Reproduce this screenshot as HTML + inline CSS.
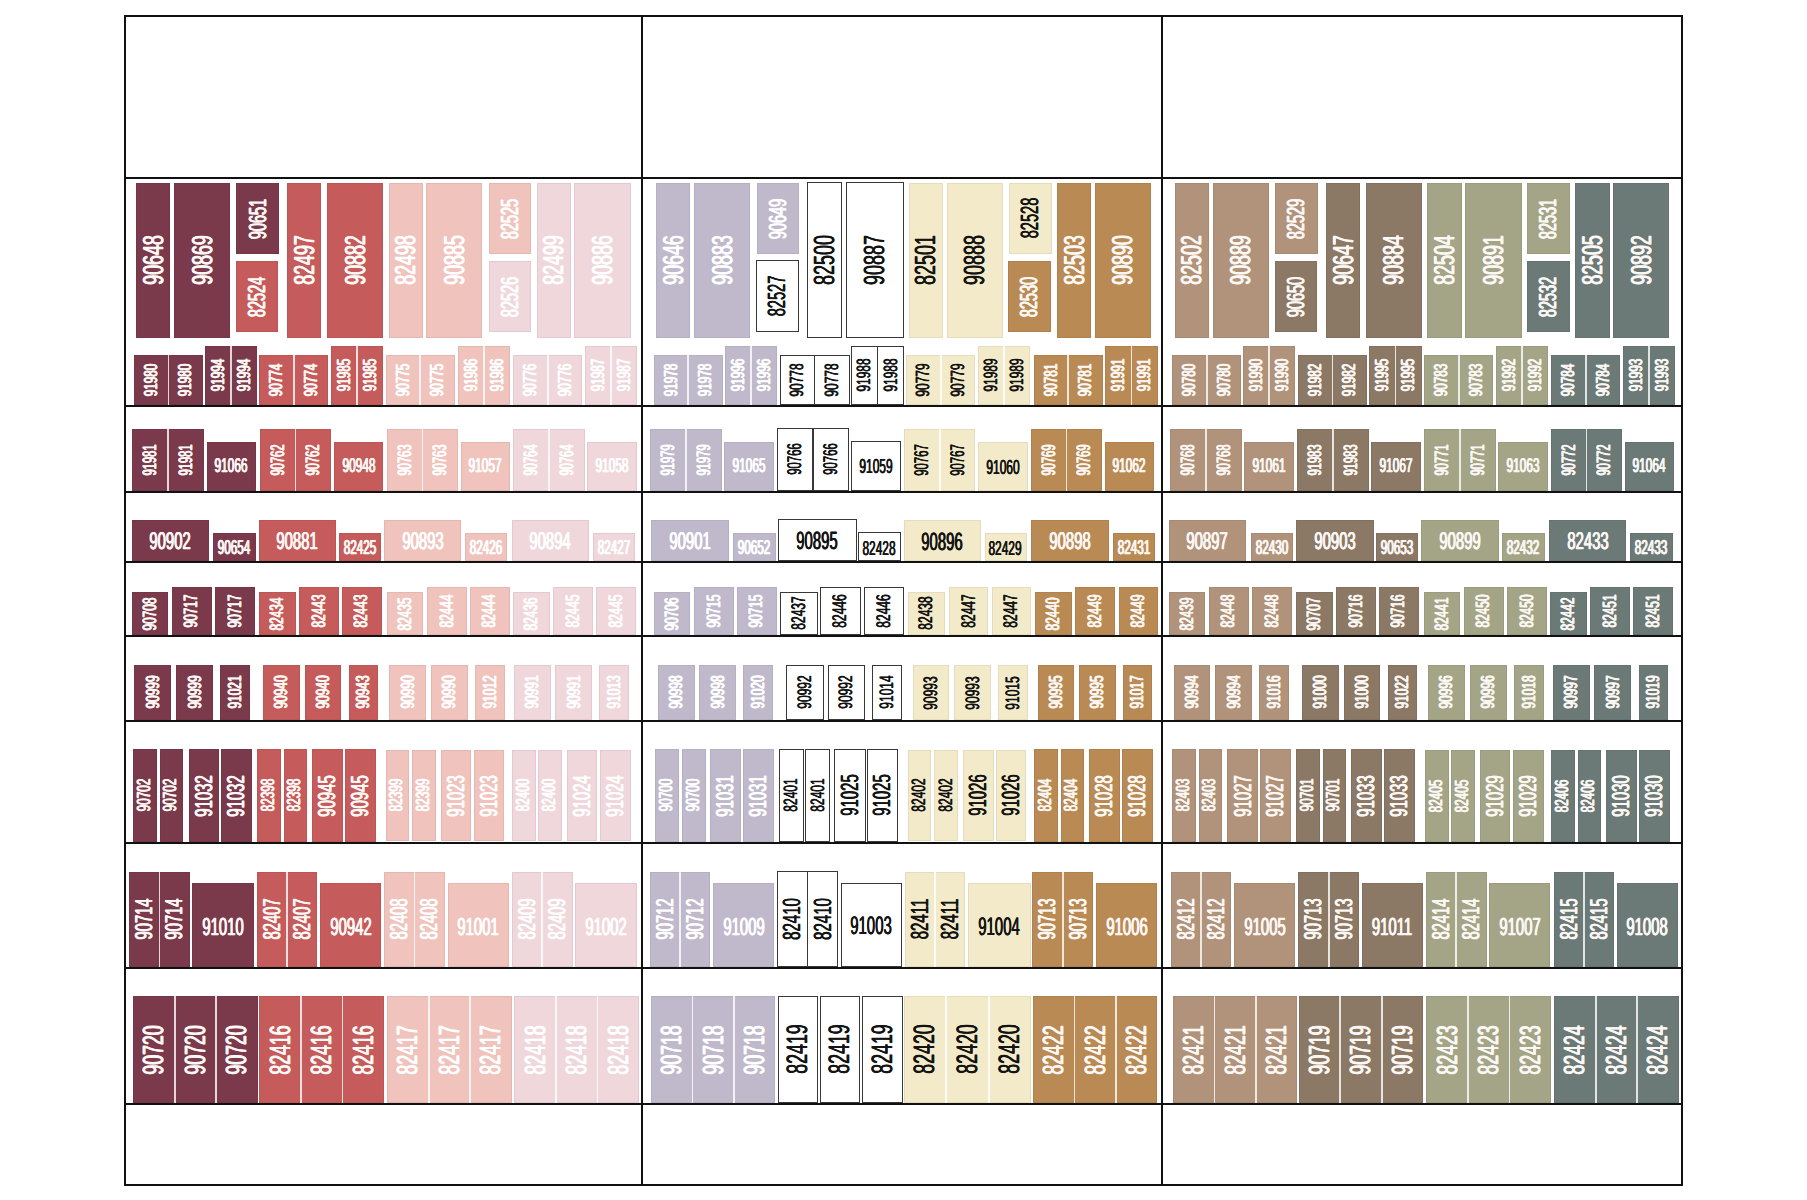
<!DOCTYPE html>
<html><head><meta charset="utf-8"><style>
html,body{margin:0;padding:0;background:#fff;}
body{width:1807px;height:1200px;position:relative;overflow:hidden;font-family:"Liberation Sans",sans-serif;}
.b{position:absolute;box-sizing:border-box;box-shadow:inset 0 0 0 1px rgba(40,0,20,0.06);}
.w{background:#fff;border:1.25px solid #383838;box-shadow:none;}
.dv{position:absolute;width:1.8px;background:rgba(255,255,255,0.8);}
.t{position:absolute;white-space:nowrap;line-height:1;display:block;text-rendering:geometricPrecision;font-weight:normal;-webkit-text-stroke:0.3px currentColor;text-shadow:0.7px 0 0 currentColor,-0.7px 0 0 currentColor;}
.d{-webkit-text-stroke:0;text-shadow:0.45px 0 0 currentColor,-0.45px 0 0 currentColor;}
.ln{position:absolute;background:#111;}
</style></head><body>
<div class="b" style="left:136px;top:182.7px;width:34.00px;height:155.30px;background:#7b3a4c;"></div>
<span class="t" style="left:153.50px;top:260.39px;font-size:28.73px;color:#fbf7f4;transform:translate(-50%,-50%) rotate(-90deg) scaleX(0.620)">90648</span>
<div class="b" style="left:174px;top:182.7px;width:56.00px;height:155.30px;background:#7b3a4c;"></div>
<span class="t" style="left:202.50px;top:260.39px;font-size:28.73px;color:#fbf7f4;transform:translate(-50%,-50%) rotate(-90deg) scaleX(0.620)">90869</span>
<div class="b" style="left:236px;top:182.7px;width:43.00px;height:71.30px;background:#7b3a4c;"></div>
<span class="t" style="left:258.51px;top:218.66px;font-size:24.56px;color:#fbf7f4;transform:translate(-50%,-50%) rotate(-90deg) scaleX(0.592)">90651</span>
<div class="b" style="left:236px;top:260.7px;width:42.00px;height:71.30px;background:#c55b5b;"></div>
<span class="t" style="left:258.01px;top:296.66px;font-size:24.56px;color:#fbf7f4;transform:translate(-50%,-50%) rotate(-90deg) scaleX(0.592)">82524</span>
<div class="b" style="left:287px;top:182.7px;width:34.00px;height:155.30px;background:#c55b5b;"></div>
<span class="t" style="left:304.50px;top:260.39px;font-size:28.73px;color:#fbf7f4;transform:translate(-50%,-50%) rotate(-90deg) scaleX(0.620)">82497</span>
<div class="b" style="left:327px;top:182.7px;width:56.00px;height:155.30px;background:#c55b5b;"></div>
<span class="t" style="left:355.50px;top:260.39px;font-size:28.73px;color:#fbf7f4;transform:translate(-50%,-50%) rotate(-90deg) scaleX(0.620)">90882</span>
<div class="b" style="left:389px;top:182.7px;width:33.50px;height:155.30px;background:#f0c3bd;"></div>
<span class="t" style="left:406.25px;top:260.39px;font-size:28.73px;color:#ffffff;transform:translate(-50%,-50%) rotate(-90deg) scaleX(0.620)">82498</span>
<div class="b" style="left:426px;top:182.7px;width:56.00px;height:155.30px;background:#f0c3bd;"></div>
<span class="t" style="left:454.50px;top:260.39px;font-size:28.73px;color:#ffffff;transform:translate(-50%,-50%) rotate(-90deg) scaleX(0.620)">90885</span>
<div class="b" style="left:488.5px;top:182.7px;width:42.50px;height:71.30px;background:#f0c3bd;"></div>
<span class="t" style="left:510.76px;top:218.66px;font-size:24.56px;color:#ffffff;transform:translate(-50%,-50%) rotate(-90deg) scaleX(0.592)">82525</span>
<div class="b" style="left:488.5px;top:260.7px;width:42.50px;height:71.30px;background:#efd7dc;"></div>
<span class="t" style="left:510.76px;top:296.66px;font-size:24.56px;color:#ffffff;transform:translate(-50%,-50%) rotate(-90deg) scaleX(0.592)">82526</span>
<div class="b" style="left:537px;top:182.7px;width:33.50px;height:155.30px;background:#efd7dc;"></div>
<span class="t" style="left:554.25px;top:260.39px;font-size:28.73px;color:#ffffff;transform:translate(-50%,-50%) rotate(-90deg) scaleX(0.620)">82499</span>
<div class="b" style="left:574px;top:182.7px;width:57.00px;height:155.30px;background:#efd7dc;"></div>
<span class="t" style="left:603.00px;top:260.39px;font-size:28.73px;color:#ffffff;transform:translate(-50%,-50%) rotate(-90deg) scaleX(0.620)">90886</span>
<div class="b" style="left:656px;top:182.7px;width:34.00px;height:155.30px;background:#c0b9cc;"></div>
<span class="t" style="left:673.50px;top:260.39px;font-size:28.73px;color:#ffffff;transform:translate(-50%,-50%) rotate(-90deg) scaleX(0.620)">90646</span>
<div class="b" style="left:694px;top:182.7px;width:56.00px;height:155.30px;background:#c0b9cc;"></div>
<span class="t" style="left:722.50px;top:260.39px;font-size:28.73px;color:#ffffff;transform:translate(-50%,-50%) rotate(-90deg) scaleX(0.620)">90883</span>
<div class="b" style="left:756.5px;top:182.7px;width:42.50px;height:71.30px;background:#c0b9cc;"></div>
<span class="t" style="left:778.76px;top:218.66px;font-size:24.56px;color:#ffffff;transform:translate(-50%,-50%) rotate(-90deg) scaleX(0.592)">90649</span>
<div class="b w" style="left:755.5px;top:259.7px;width:43.00px;height:72.80px;"></div>
<span class="t d" style="left:777.41px;top:296.18px;font-size:24.91px;color:#141414;transform:translate(-50%,-50%) rotate(-90deg) scaleX(0.587)">82527</span>
<div class="b w" style="left:806.5px;top:181.7px;width:35.00px;height:156.80px;"></div>
<span class="t d" style="left:825.53px;top:260.10px;font-size:29.10px;color:#141414;transform:translate(-50%,-50%) rotate(-90deg) scaleX(0.616)">82500</span>
<div class="b w" style="left:846px;top:181.7px;width:57.50px;height:156.80px;"></div>
<span class="t d" style="left:876.28px;top:260.10px;font-size:29.10px;color:#141414;transform:translate(-50%,-50%) rotate(-90deg) scaleX(0.616)">90887</span>
<div class="b" style="left:908.5px;top:182.7px;width:34.00px;height:155.30px;background:#f2eac8;"></div>
<span class="t d" style="left:927.03px;top:260.35px;font-size:29.10px;color:#141414;transform:translate(-50%,-50%) rotate(-90deg) scaleX(0.616)">82501</span>
<div class="b" style="left:946.5px;top:182.7px;width:56.00px;height:155.30px;background:#f2eac8;"></div>
<span class="t d" style="left:976.03px;top:260.35px;font-size:29.10px;color:#141414;transform:translate(-50%,-50%) rotate(-90deg) scaleX(0.616)">90888</span>
<div class="b" style="left:1008.5px;top:182.7px;width:43.00px;height:71.30px;background:#f2eac8;"></div>
<span class="t d" style="left:1030.41px;top:218.43px;font-size:24.91px;color:#141414;transform:translate(-50%,-50%) rotate(-90deg) scaleX(0.587)">82528</span>
<div class="b" style="left:1008px;top:260.7px;width:42.50px;height:71.30px;background:#b98a53;"></div>
<span class="t" style="left:1030.26px;top:296.66px;font-size:24.56px;color:#fbf7f4;transform:translate(-50%,-50%) rotate(-90deg) scaleX(0.592)">82530</span>
<div class="b" style="left:1057px;top:182.7px;width:34.00px;height:155.30px;background:#b98a53;"></div>
<span class="t" style="left:1074.50px;top:260.39px;font-size:28.73px;color:#fbf7f4;transform:translate(-50%,-50%) rotate(-90deg) scaleX(0.620)">82503</span>
<div class="b" style="left:1094.5px;top:182.7px;width:56.00px;height:155.30px;background:#b98a53;"></div>
<span class="t" style="left:1123.00px;top:260.39px;font-size:28.73px;color:#fbf7f4;transform:translate(-50%,-50%) rotate(-90deg) scaleX(0.620)">90890</span>
<div class="b" style="left:1175px;top:182.7px;width:33.50px;height:155.30px;background:#b0937a;"></div>
<span class="t" style="left:1192.25px;top:260.39px;font-size:28.73px;color:#fbf7f4;transform:translate(-50%,-50%) rotate(-90deg) scaleX(0.620)">82502</span>
<div class="b" style="left:1213px;top:182.7px;width:55.50px;height:155.30px;background:#b0937a;"></div>
<span class="t" style="left:1241.25px;top:260.39px;font-size:28.73px;color:#fbf7f4;transform:translate(-50%,-50%) rotate(-90deg) scaleX(0.620)">90889</span>
<div class="b" style="left:1275px;top:182.7px;width:42.50px;height:71.30px;background:#b0937a;"></div>
<span class="t" style="left:1297.26px;top:218.66px;font-size:24.56px;color:#fbf7f4;transform:translate(-50%,-50%) rotate(-90deg) scaleX(0.592)">82529</span>
<div class="b" style="left:1275px;top:260.7px;width:42.00px;height:71.30px;background:#8b7865;"></div>
<span class="t" style="left:1297.01px;top:296.66px;font-size:24.56px;color:#fbf7f4;transform:translate(-50%,-50%) rotate(-90deg) scaleX(0.592)">90650</span>
<div class="b" style="left:1326px;top:182.7px;width:34.00px;height:155.30px;background:#8b7865;"></div>
<span class="t" style="left:1343.50px;top:260.39px;font-size:28.73px;color:#fbf7f4;transform:translate(-50%,-50%) rotate(-90deg) scaleX(0.620)">90647</span>
<div class="b" style="left:1365.5px;top:182.7px;width:56.00px;height:155.30px;background:#8b7865;"></div>
<span class="t" style="left:1394.00px;top:260.39px;font-size:28.73px;color:#fbf7f4;transform:translate(-50%,-50%) rotate(-90deg) scaleX(0.620)">90884</span>
<div class="b" style="left:1427px;top:182.7px;width:34.50px;height:155.30px;background:#a3a586;"></div>
<span class="t" style="left:1444.75px;top:260.39px;font-size:28.73px;color:#fbf7f4;transform:translate(-50%,-50%) rotate(-90deg) scaleX(0.620)">82504</span>
<div class="b" style="left:1465px;top:182.7px;width:56.50px;height:155.30px;background:#a3a586;"></div>
<span class="t" style="left:1493.75px;top:260.39px;font-size:28.73px;color:#fbf7f4;transform:translate(-50%,-50%) rotate(-90deg) scaleX(0.620)">90891</span>
<div class="b" style="left:1527px;top:182.7px;width:42.50px;height:71.30px;background:#a3a586;"></div>
<span class="t" style="left:1549.26px;top:218.66px;font-size:24.56px;color:#fbf7f4;transform:translate(-50%,-50%) rotate(-90deg) scaleX(0.592)">82531</span>
<div class="b" style="left:1526.5px;top:260.7px;width:43.00px;height:71.30px;background:#6b7a77;"></div>
<span class="t" style="left:1549.01px;top:296.66px;font-size:24.56px;color:#fbf7f4;transform:translate(-50%,-50%) rotate(-90deg) scaleX(0.592)">82532</span>
<div class="b" style="left:1575px;top:182.7px;width:34.50px;height:155.30px;background:#6b7a77;"></div>
<span class="t" style="left:1592.75px;top:260.39px;font-size:28.73px;color:#fbf7f4;transform:translate(-50%,-50%) rotate(-90deg) scaleX(0.620)">82505</span>
<div class="b" style="left:1613px;top:182.7px;width:56.00px;height:155.30px;background:#6b7a77;"></div>
<span class="t" style="left:1641.50px;top:260.39px;font-size:28.73px;color:#fbf7f4;transform:translate(-50%,-50%) rotate(-90deg) scaleX(0.620)">90892</span>
<div class="b" style="left:134px;top:354.7px;width:68.50px;height:50.30px;background:#7b3a4c;"></div>
<span class="t" style="left:151.22px;top:379.65px;font-size:18.81px;color:#fbf7f4;transform:translate(-50%,-50%) rotate(-90deg) scaleX(0.622)">91980</span>
<div class="dv" style="left:167.50px;top:354.7px;height:50.30px"></div>
<span class="t" style="left:185.47px;top:379.65px;font-size:18.81px;color:#fbf7f4;transform:translate(-50%,-50%) rotate(-90deg) scaleX(0.622)">91980</span>
<div class="b" style="left:205px;top:345.7px;width:52.00px;height:59.30px;background:#7b3a4c;"></div>
<span class="t" style="left:218.09px;top:375.15px;font-size:18.81px;color:#fbf7f4;transform:translate(-50%,-50%) rotate(-90deg) scaleX(0.622)">91994</span>
<div class="dv" style="left:230.25px;top:345.7px;height:59.30px"></div>
<span class="t" style="left:244.09px;top:375.15px;font-size:18.81px;color:#fbf7f4;transform:translate(-50%,-50%) rotate(-90deg) scaleX(0.622)">91994</span>
<div class="b" style="left:259px;top:354.7px;width:69.00px;height:50.30px;background:#c55b5b;"></div>
<span class="t" style="left:276.34px;top:379.65px;font-size:18.81px;color:#fbf7f4;transform:translate(-50%,-50%) rotate(-90deg) scaleX(0.622)">90774</span>
<div class="dv" style="left:292.75px;top:354.7px;height:50.30px"></div>
<span class="t" style="left:310.84px;top:379.65px;font-size:18.81px;color:#fbf7f4;transform:translate(-50%,-50%) rotate(-90deg) scaleX(0.622)">90774</span>
<div class="b" style="left:331px;top:345.7px;width:52.00px;height:59.30px;background:#c55b5b;"></div>
<span class="t" style="left:344.09px;top:375.15px;font-size:18.81px;color:#fbf7f4;transform:translate(-50%,-50%) rotate(-90deg) scaleX(0.622)">91985</span>
<div class="dv" style="left:356.25px;top:345.7px;height:59.30px"></div>
<span class="t" style="left:370.09px;top:375.15px;font-size:18.81px;color:#fbf7f4;transform:translate(-50%,-50%) rotate(-90deg) scaleX(0.622)">91985</span>
<div class="b" style="left:385.5px;top:354.7px;width:69.00px;height:50.30px;background:#f0c3bd;"></div>
<span class="t" style="left:402.84px;top:379.65px;font-size:18.81px;color:#ffffff;transform:translate(-50%,-50%) rotate(-90deg) scaleX(0.622)">90775</span>
<div class="dv" style="left:419.25px;top:354.7px;height:50.30px"></div>
<span class="t" style="left:437.34px;top:379.65px;font-size:18.81px;color:#ffffff;transform:translate(-50%,-50%) rotate(-90deg) scaleX(0.622)">90775</span>
<div class="b" style="left:457.5px;top:345.7px;width:52.00px;height:59.30px;background:#f0c3bd;"></div>
<span class="t" style="left:470.59px;top:375.15px;font-size:18.81px;color:#ffffff;transform:translate(-50%,-50%) rotate(-90deg) scaleX(0.622)">91986</span>
<div class="dv" style="left:482.75px;top:345.7px;height:59.30px"></div>
<span class="t" style="left:496.59px;top:375.15px;font-size:18.81px;color:#ffffff;transform:translate(-50%,-50%) rotate(-90deg) scaleX(0.622)">91986</span>
<div class="b" style="left:513px;top:354.7px;width:69.00px;height:50.30px;background:#efd7dc;"></div>
<span class="t" style="left:530.34px;top:379.65px;font-size:18.81px;color:#ffffff;transform:translate(-50%,-50%) rotate(-90deg) scaleX(0.622)">90776</span>
<div class="dv" style="left:546.75px;top:354.7px;height:50.30px"></div>
<span class="t" style="left:564.84px;top:379.65px;font-size:18.81px;color:#ffffff;transform:translate(-50%,-50%) rotate(-90deg) scaleX(0.622)">90776</span>
<div class="b" style="left:585px;top:345.7px;width:52.00px;height:59.30px;background:#efd7dc;"></div>
<span class="t" style="left:598.09px;top:375.15px;font-size:18.81px;color:#ffffff;transform:translate(-50%,-50%) rotate(-90deg) scaleX(0.622)">91987</span>
<div class="dv" style="left:610.25px;top:345.7px;height:59.30px"></div>
<span class="t" style="left:624.09px;top:375.15px;font-size:18.81px;color:#ffffff;transform:translate(-50%,-50%) rotate(-90deg) scaleX(0.622)">91987</span>
<div class="b" style="left:653.5px;top:354.7px;width:69.00px;height:50.30px;background:#c0b9cc;"></div>
<span class="t" style="left:670.84px;top:379.65px;font-size:18.81px;color:#ffffff;transform:translate(-50%,-50%) rotate(-90deg) scaleX(0.622)">91978</span>
<div class="dv" style="left:687.25px;top:354.7px;height:50.30px"></div>
<span class="t" style="left:705.34px;top:379.65px;font-size:18.81px;color:#ffffff;transform:translate(-50%,-50%) rotate(-90deg) scaleX(0.622)">91978</span>
<div class="b" style="left:725px;top:345.7px;width:52.00px;height:59.30px;background:#c0b9cc;"></div>
<span class="t" style="left:738.09px;top:375.15px;font-size:18.81px;color:#ffffff;transform:translate(-50%,-50%) rotate(-90deg) scaleX(0.622)">91996</span>
<div class="dv" style="left:750.25px;top:345.7px;height:59.30px"></div>
<span class="t" style="left:764.09px;top:375.15px;font-size:18.81px;color:#ffffff;transform:translate(-50%,-50%) rotate(-90deg) scaleX(0.622)">91996</span>
<div class="b w" style="left:779.5px;top:354.7px;width:35.00px;height:50.30px;"></div>
<span class="t d" style="left:798.08px;top:379.66px;font-size:19.23px;color:#141414;transform:translate(-50%,-50%) rotate(-90deg) scaleX(0.621)">90778</span>
<div class="b w" style="left:814px;top:354.7px;width:35.50px;height:50.30px;"></div>
<span class="t d" style="left:832.83px;top:379.66px;font-size:19.23px;color:#141414;transform:translate(-50%,-50%) rotate(-90deg) scaleX(0.621)">90778</span>
<div class="b w" style="left:850.5px;top:345.7px;width:27.00px;height:59.30px;"></div>
<span class="t d" style="left:865.08px;top:375.16px;font-size:19.23px;color:#141414;transform:translate(-50%,-50%) rotate(-90deg) scaleX(0.621)">91988</span>
<div class="b w" style="left:877px;top:345.7px;width:27.00px;height:59.30px;"></div>
<span class="t d" style="left:891.58px;top:375.16px;font-size:19.23px;color:#141414;transform:translate(-50%,-50%) rotate(-90deg) scaleX(0.621)">91988</span>
<div class="b" style="left:906px;top:354.7px;width:69.00px;height:50.30px;background:#f2eac8;"></div>
<span class="t d" style="left:924.33px;top:379.66px;font-size:19.23px;color:#141414;transform:translate(-50%,-50%) rotate(-90deg) scaleX(0.621)">90779</span>
<div class="dv" style="left:939.75px;top:354.7px;height:50.30px"></div>
<span class="t d" style="left:958.83px;top:379.66px;font-size:19.23px;color:#141414;transform:translate(-50%,-50%) rotate(-90deg) scaleX(0.621)">90779</span>
<div class="b" style="left:977.5px;top:345.7px;width:52.00px;height:59.30px;background:#f2eac8;"></div>
<span class="t d" style="left:991.58px;top:375.16px;font-size:19.23px;color:#141414;transform:translate(-50%,-50%) rotate(-90deg) scaleX(0.621)">91989</span>
<div class="dv" style="left:1002.75px;top:345.7px;height:59.30px"></div>
<span class="t d" style="left:1017.58px;top:375.16px;font-size:19.23px;color:#141414;transform:translate(-50%,-50%) rotate(-90deg) scaleX(0.621)">91989</span>
<div class="b" style="left:1033.5px;top:354.7px;width:69.00px;height:50.30px;background:#b98a53;"></div>
<span class="t" style="left:1050.84px;top:379.65px;font-size:18.81px;color:#fbf7f4;transform:translate(-50%,-50%) rotate(-90deg) scaleX(0.622)">90781</span>
<div class="dv" style="left:1067.25px;top:354.7px;height:50.30px"></div>
<span class="t" style="left:1085.34px;top:379.65px;font-size:18.81px;color:#fbf7f4;transform:translate(-50%,-50%) rotate(-90deg) scaleX(0.622)">90781</span>
<div class="b" style="left:1105px;top:345.7px;width:52.50px;height:59.30px;background:#b98a53;"></div>
<span class="t" style="left:1118.22px;top:375.15px;font-size:18.81px;color:#fbf7f4;transform:translate(-50%,-50%) rotate(-90deg) scaleX(0.622)">91991</span>
<div class="dv" style="left:1130.50px;top:345.7px;height:59.30px"></div>
<span class="t" style="left:1144.47px;top:375.15px;font-size:18.81px;color:#fbf7f4;transform:translate(-50%,-50%) rotate(-90deg) scaleX(0.622)">91991</span>
<div class="b" style="left:1172px;top:354.7px;width:69.00px;height:50.30px;background:#b0937a;"></div>
<span class="t" style="left:1189.34px;top:379.65px;font-size:18.81px;color:#fbf7f4;transform:translate(-50%,-50%) rotate(-90deg) scaleX(0.622)">90780</span>
<div class="dv" style="left:1205.75px;top:354.7px;height:50.30px"></div>
<span class="t" style="left:1223.84px;top:379.65px;font-size:18.81px;color:#fbf7f4;transform:translate(-50%,-50%) rotate(-90deg) scaleX(0.622)">90780</span>
<div class="b" style="left:1243px;top:345.7px;width:52.00px;height:59.30px;background:#b0937a;"></div>
<span class="t" style="left:1256.09px;top:375.15px;font-size:18.81px;color:#fbf7f4;transform:translate(-50%,-50%) rotate(-90deg) scaleX(0.622)">91990</span>
<div class="dv" style="left:1268.25px;top:345.7px;height:59.30px"></div>
<span class="t" style="left:1282.09px;top:375.15px;font-size:18.81px;color:#fbf7f4;transform:translate(-50%,-50%) rotate(-90deg) scaleX(0.622)">91990</span>
<div class="b" style="left:1298px;top:354.7px;width:68.50px;height:50.30px;background:#8b7865;"></div>
<span class="t" style="left:1315.22px;top:379.65px;font-size:18.81px;color:#fbf7f4;transform:translate(-50%,-50%) rotate(-90deg) scaleX(0.622)">91982</span>
<div class="dv" style="left:1331.50px;top:354.7px;height:50.30px"></div>
<span class="t" style="left:1349.47px;top:379.65px;font-size:18.81px;color:#fbf7f4;transform:translate(-50%,-50%) rotate(-90deg) scaleX(0.622)">91982</span>
<div class="b" style="left:1369px;top:345.7px;width:52.50px;height:59.30px;background:#8b7865;"></div>
<span class="t" style="left:1382.22px;top:375.15px;font-size:18.81px;color:#fbf7f4;transform:translate(-50%,-50%) rotate(-90deg) scaleX(0.622)">91995</span>
<div class="dv" style="left:1394.50px;top:345.7px;height:59.30px"></div>
<span class="t" style="left:1408.47px;top:375.15px;font-size:18.81px;color:#fbf7f4;transform:translate(-50%,-50%) rotate(-90deg) scaleX(0.622)">91995</span>
<div class="b" style="left:1424px;top:354.7px;width:69.00px;height:50.30px;background:#a3a586;"></div>
<span class="t" style="left:1441.34px;top:379.65px;font-size:18.81px;color:#fbf7f4;transform:translate(-50%,-50%) rotate(-90deg) scaleX(0.622)">90783</span>
<div class="dv" style="left:1457.75px;top:354.7px;height:50.30px"></div>
<span class="t" style="left:1475.84px;top:379.65px;font-size:18.81px;color:#fbf7f4;transform:translate(-50%,-50%) rotate(-90deg) scaleX(0.622)">90783</span>
<div class="b" style="left:1495.5px;top:345.7px;width:52.50px;height:59.30px;background:#a3a586;"></div>
<span class="t" style="left:1508.72px;top:375.15px;font-size:18.81px;color:#fbf7f4;transform:translate(-50%,-50%) rotate(-90deg) scaleX(0.622)">91992</span>
<div class="dv" style="left:1521.00px;top:345.7px;height:59.30px"></div>
<span class="t" style="left:1534.97px;top:375.15px;font-size:18.81px;color:#fbf7f4;transform:translate(-50%,-50%) rotate(-90deg) scaleX(0.622)">91992</span>
<div class="b" style="left:1551px;top:354.7px;width:69.00px;height:50.30px;background:#6b7a77;"></div>
<span class="t" style="left:1568.34px;top:379.65px;font-size:18.81px;color:#fbf7f4;transform:translate(-50%,-50%) rotate(-90deg) scaleX(0.622)">90784</span>
<div class="dv" style="left:1584.75px;top:354.7px;height:50.30px"></div>
<span class="t" style="left:1602.84px;top:379.65px;font-size:18.81px;color:#fbf7f4;transform:translate(-50%,-50%) rotate(-90deg) scaleX(0.622)">90784</span>
<div class="b" style="left:1623px;top:345.7px;width:52.00px;height:59.30px;background:#6b7a77;"></div>
<span class="t" style="left:1636.09px;top:375.15px;font-size:18.81px;color:#fbf7f4;transform:translate(-50%,-50%) rotate(-90deg) scaleX(0.622)">91993</span>
<div class="dv" style="left:1648.25px;top:345.7px;height:59.30px"></div>
<span class="t" style="left:1662.09px;top:375.15px;font-size:18.81px;color:#fbf7f4;transform:translate(-50%,-50%) rotate(-90deg) scaleX(0.622)">91993</span>
<div class="b" style="left:132px;top:428.7px;width:72.00px;height:62.30px;background:#7b3a4c;"></div>
<span class="t" style="left:151.22px;top:459.63px;font-size:19.33px;color:#fbf7f4;transform:translate(-50%,-50%) rotate(-90deg) scaleX(0.577)">91981</span>
<div class="dv" style="left:167.25px;top:428.7px;height:62.30px"></div>
<span class="t" style="left:187.22px;top:459.63px;font-size:19.33px;color:#fbf7f4;transform:translate(-50%,-50%) rotate(-90deg) scaleX(0.577)">91981</span>
<div class="b" style="left:206.5px;top:441.7px;width:49.50px;height:49.30px;background:#7b3a4c;"></div>
<span class="t" style="left:231.27px;top:467.33px;font-size:19.97px;color:#fbf7f4;transform:translate(-50%,-50%) scaleX(0.594)">91066</span>
<div class="b" style="left:259.5px;top:428.7px;width:71.50px;height:62.30px;background:#c55b5b;"></div>
<span class="t" style="left:278.60px;top:459.63px;font-size:19.33px;color:#fbf7f4;transform:translate(-50%,-50%) rotate(-90deg) scaleX(0.577)">90762</span>
<div class="dv" style="left:294.50px;top:428.7px;height:62.30px"></div>
<span class="t" style="left:314.35px;top:459.63px;font-size:19.33px;color:#fbf7f4;transform:translate(-50%,-50%) rotate(-90deg) scaleX(0.577)">90762</span>
<div class="b" style="left:334px;top:441.7px;width:49.00px;height:49.30px;background:#c55b5b;"></div>
<span class="t" style="left:358.52px;top:467.33px;font-size:19.97px;color:#fbf7f4;transform:translate(-50%,-50%) scaleX(0.594)">90948</span>
<div class="b" style="left:386.5px;top:428.7px;width:71.50px;height:62.30px;background:#f0c3bd;"></div>
<span class="t" style="left:405.60px;top:459.63px;font-size:19.33px;color:#ffffff;transform:translate(-50%,-50%) rotate(-90deg) scaleX(0.577)">90763</span>
<div class="dv" style="left:421.50px;top:428.7px;height:62.30px"></div>
<span class="t" style="left:441.35px;top:459.63px;font-size:19.33px;color:#ffffff;transform:translate(-50%,-50%) rotate(-90deg) scaleX(0.577)">90763</span>
<div class="b" style="left:460.5px;top:441.7px;width:49.50px;height:49.30px;background:#f0c3bd;"></div>
<span class="t" style="left:485.27px;top:467.33px;font-size:19.97px;color:#ffffff;transform:translate(-50%,-50%) scaleX(0.594)">91057</span>
<div class="b" style="left:513px;top:428.7px;width:71.50px;height:62.30px;background:#efd7dc;"></div>
<span class="t" style="left:532.10px;top:459.63px;font-size:19.33px;color:#ffffff;transform:translate(-50%,-50%) rotate(-90deg) scaleX(0.577)">90764</span>
<div class="dv" style="left:548.00px;top:428.7px;height:62.30px"></div>
<span class="t" style="left:567.85px;top:459.63px;font-size:19.33px;color:#ffffff;transform:translate(-50%,-50%) rotate(-90deg) scaleX(0.577)">90764</span>
<div class="b" style="left:587px;top:441.7px;width:49.50px;height:49.30px;background:#efd7dc;"></div>
<span class="t" style="left:611.77px;top:467.33px;font-size:19.97px;color:#ffffff;transform:translate(-50%,-50%) scaleX(0.594)">91058</span>
<div class="b" style="left:650px;top:428.7px;width:71.50px;height:62.30px;background:#c0b9cc;"></div>
<span class="t" style="left:669.10px;top:459.63px;font-size:19.33px;color:#ffffff;transform:translate(-50%,-50%) rotate(-90deg) scaleX(0.577)">91979</span>
<div class="dv" style="left:685.00px;top:428.7px;height:62.30px"></div>
<span class="t" style="left:704.85px;top:459.63px;font-size:19.33px;color:#ffffff;transform:translate(-50%,-50%) rotate(-90deg) scaleX(0.577)">91979</span>
<div class="b" style="left:724px;top:441.7px;width:49.50px;height:49.30px;background:#c0b9cc;"></div>
<span class="t" style="left:748.77px;top:467.33px;font-size:19.97px;color:#ffffff;transform:translate(-50%,-50%) scaleX(0.594)">91065</span>
<div class="b w" style="left:776.5px;top:427.7px;width:36.50px;height:63.30px;"></div>
<span class="t d" style="left:796.04px;top:459.24px;font-size:19.82px;color:#141414;transform:translate(-50%,-50%) rotate(-90deg) scaleX(0.570)">90766</span>
<div class="b w" style="left:812.5px;top:427.7px;width:36.00px;height:63.30px;"></div>
<span class="t d" style="left:831.79px;top:459.24px;font-size:19.82px;color:#141414;transform:translate(-50%,-50%) rotate(-90deg) scaleX(0.570)">90766</span>
<div class="b w" style="left:851px;top:440.7px;width:50.00px;height:50.30px;"></div>
<span class="t d" style="left:875.89px;top:467.37px;font-size:20.42px;color:#141414;transform:translate(-50%,-50%) scaleX(0.586)">91059</span>
<div class="b" style="left:904px;top:428.7px;width:71.00px;height:62.30px;background:#f2eac8;"></div>
<span class="t d" style="left:923.04px;top:459.74px;font-size:19.82px;color:#141414;transform:translate(-50%,-50%) rotate(-90deg) scaleX(0.570)">90767</span>
<div class="dv" style="left:938.75px;top:428.7px;height:62.30px"></div>
<span class="t d" style="left:958.54px;top:459.74px;font-size:19.82px;color:#141414;transform:translate(-50%,-50%) rotate(-90deg) scaleX(0.570)">90767</span>
<div class="b" style="left:978px;top:441.7px;width:49.50px;height:49.30px;background:#f2eac8;"></div>
<span class="t d" style="left:1002.64px;top:467.87px;font-size:20.42px;color:#141414;transform:translate(-50%,-50%) scaleX(0.586)">91060</span>
<div class="b" style="left:1030.5px;top:428.7px;width:71.50px;height:62.30px;background:#b98a53;"></div>
<span class="t" style="left:1049.60px;top:459.63px;font-size:19.33px;color:#fbf7f4;transform:translate(-50%,-50%) rotate(-90deg) scaleX(0.577)">90769</span>
<div class="dv" style="left:1065.50px;top:428.7px;height:62.30px"></div>
<span class="t" style="left:1085.35px;top:459.63px;font-size:19.33px;color:#fbf7f4;transform:translate(-50%,-50%) rotate(-90deg) scaleX(0.577)">90769</span>
<div class="b" style="left:1104.5px;top:441.7px;width:49.50px;height:49.30px;background:#b98a53;"></div>
<span class="t" style="left:1129.27px;top:467.33px;font-size:19.97px;color:#fbf7f4;transform:translate(-50%,-50%) scaleX(0.594)">91062</span>
<div class="b" style="left:1170px;top:428.7px;width:71.50px;height:62.30px;background:#b0937a;"></div>
<span class="t" style="left:1189.10px;top:459.63px;font-size:19.33px;color:#fbf7f4;transform:translate(-50%,-50%) rotate(-90deg) scaleX(0.577)">90768</span>
<div class="dv" style="left:1205.00px;top:428.7px;height:62.30px"></div>
<span class="t" style="left:1224.85px;top:459.63px;font-size:19.33px;color:#fbf7f4;transform:translate(-50%,-50%) rotate(-90deg) scaleX(0.577)">90768</span>
<div class="b" style="left:1244px;top:441.7px;width:49.50px;height:49.30px;background:#b0937a;"></div>
<span class="t" style="left:1268.77px;top:467.33px;font-size:19.97px;color:#fbf7f4;transform:translate(-50%,-50%) scaleX(0.594)">91061</span>
<div class="b" style="left:1297px;top:428.7px;width:71.50px;height:62.30px;background:#8b7865;"></div>
<span class="t" style="left:1316.10px;top:459.63px;font-size:19.33px;color:#fbf7f4;transform:translate(-50%,-50%) rotate(-90deg) scaleX(0.577)">91983</span>
<div class="dv" style="left:1332.00px;top:428.7px;height:62.30px"></div>
<span class="t" style="left:1351.85px;top:459.63px;font-size:19.33px;color:#fbf7f4;transform:translate(-50%,-50%) rotate(-90deg) scaleX(0.577)">91983</span>
<div class="b" style="left:1371px;top:441.7px;width:49.50px;height:49.30px;background:#8b7865;"></div>
<span class="t" style="left:1395.77px;top:467.33px;font-size:19.97px;color:#fbf7f4;transform:translate(-50%,-50%) scaleX(0.594)">91067</span>
<div class="b" style="left:1424px;top:428.7px;width:72.00px;height:62.30px;background:#a3a586;"></div>
<span class="t" style="left:1443.22px;top:459.63px;font-size:19.33px;color:#fbf7f4;transform:translate(-50%,-50%) rotate(-90deg) scaleX(0.577)">90771</span>
<div class="dv" style="left:1459.25px;top:428.7px;height:62.30px"></div>
<span class="t" style="left:1479.22px;top:459.63px;font-size:19.33px;color:#fbf7f4;transform:translate(-50%,-50%) rotate(-90deg) scaleX(0.577)">90771</span>
<div class="b" style="left:1498px;top:441.7px;width:49.50px;height:49.30px;background:#a3a586;"></div>
<span class="t" style="left:1522.77px;top:467.33px;font-size:19.97px;color:#fbf7f4;transform:translate(-50%,-50%) scaleX(0.594)">91063</span>
<div class="b" style="left:1550.5px;top:428.7px;width:71.50px;height:62.30px;background:#6b7a77;"></div>
<span class="t" style="left:1569.60px;top:459.63px;font-size:19.33px;color:#fbf7f4;transform:translate(-50%,-50%) rotate(-90deg) scaleX(0.577)">90772</span>
<div class="dv" style="left:1585.50px;top:428.7px;height:62.30px"></div>
<span class="t" style="left:1605.35px;top:459.63px;font-size:19.33px;color:#fbf7f4;transform:translate(-50%,-50%) rotate(-90deg) scaleX(0.577)">90772</span>
<div class="b" style="left:1624.5px;top:441.7px;width:49.50px;height:49.30px;background:#6b7a77;"></div>
<span class="t" style="left:1649.27px;top:467.33px;font-size:19.97px;color:#fbf7f4;transform:translate(-50%,-50%) scaleX(0.594)">91064</span>
<div class="b" style="left:131.5px;top:519.7px;width:77.50px;height:41.30px;background:#7b3a4c;"></div>
<span class="t" style="left:170.49px;top:542.09px;font-size:24.32px;color:#fbf7f4;transform:translate(-50%,-50%) scaleX(0.612)">90902</span>
<div class="b" style="left:213px;top:532.7px;width:43.00px;height:28.30px;background:#7b3a4c;"></div>
<span class="t" style="left:234.48px;top:548.00px;font-size:20.11px;color:#fbf7f4;transform:translate(-50%,-50%) scaleX(0.581)">90654</span>
<div class="b" style="left:258.5px;top:519.7px;width:77.50px;height:41.30px;background:#c55b5b;"></div>
<span class="t" style="left:297.49px;top:542.09px;font-size:24.32px;color:#fbf7f4;transform:translate(-50%,-50%) scaleX(0.612)">90881</span>
<div class="b" style="left:338.5px;top:532.7px;width:42.50px;height:28.30px;background:#c55b5b;"></div>
<span class="t" style="left:359.73px;top:548.00px;font-size:20.11px;color:#fbf7f4;transform:translate(-50%,-50%) scaleX(0.581)">82425</span>
<div class="b" style="left:384px;top:519.7px;width:77.00px;height:41.30px;background:#f0c3bd;"></div>
<span class="t" style="left:422.74px;top:542.09px;font-size:24.32px;color:#ffffff;transform:translate(-50%,-50%) scaleX(0.612)">90893</span>
<div class="b" style="left:465px;top:532.7px;width:42.00px;height:28.30px;background:#f0c3bd;"></div>
<span class="t" style="left:485.98px;top:548.00px;font-size:20.11px;color:#ffffff;transform:translate(-50%,-50%) scaleX(0.581)">82426</span>
<div class="b" style="left:511.5px;top:519.7px;width:77.50px;height:41.30px;background:#efd7dc;"></div>
<span class="t" style="left:550.49px;top:542.09px;font-size:24.32px;color:#ffffff;transform:translate(-50%,-50%) scaleX(0.612)">90894</span>
<div class="b" style="left:593px;top:532.7px;width:42.00px;height:28.30px;background:#efd7dc;"></div>
<span class="t" style="left:613.98px;top:548.00px;font-size:20.11px;color:#ffffff;transform:translate(-50%,-50%) scaleX(0.581)">82427</span>
<div class="b" style="left:651px;top:519.7px;width:78.00px;height:41.30px;background:#c0b9cc;"></div>
<span class="t" style="left:690.24px;top:542.09px;font-size:24.32px;color:#ffffff;transform:translate(-50%,-50%) scaleX(0.612)">90901</span>
<div class="b" style="left:733px;top:532.7px;width:42.50px;height:28.30px;background:#c0b9cc;"></div>
<span class="t" style="left:754.23px;top:548.00px;font-size:20.11px;color:#ffffff;transform:translate(-50%,-50%) scaleX(0.581)">90652</span>
<div class="b w" style="left:777.5px;top:518.7px;width:79.00px;height:42.30px;"></div>
<span class="t d" style="left:817.01px;top:541.11px;font-size:24.97px;color:#141414;transform:translate(-50%,-50%) scaleX(0.595)">90895</span>
<div class="b w" style="left:858px;top:532.2px;width:43.00px;height:28.80px;"></div>
<span class="t d" style="left:879.38px;top:548.56px;font-size:20.23px;color:#141414;transform:translate(-50%,-50%) scaleX(0.590)">82428</span>
<div class="b" style="left:903.5px;top:519.7px;width:77.00px;height:41.30px;background:#f2eac8;"></div>
<span class="t d" style="left:942.01px;top:541.61px;font-size:24.97px;color:#141414;transform:translate(-50%,-50%) scaleX(0.595)">90896</span>
<div class="b" style="left:984.5px;top:532.7px;width:42.00px;height:28.30px;background:#f2eac8;"></div>
<span class="t d" style="left:1005.38px;top:548.81px;font-size:20.23px;color:#141414;transform:translate(-50%,-50%) scaleX(0.590)">82429</span>
<div class="b" style="left:1031px;top:519.7px;width:78.00px;height:41.30px;background:#b98a53;"></div>
<span class="t" style="left:1070.24px;top:542.09px;font-size:24.32px;color:#fbf7f4;transform:translate(-50%,-50%) scaleX(0.612)">90898</span>
<div class="b" style="left:1112.5px;top:532.7px;width:42.50px;height:28.30px;background:#b98a53;"></div>
<span class="t" style="left:1133.73px;top:548.00px;font-size:20.11px;color:#fbf7f4;transform:translate(-50%,-50%) scaleX(0.581)">82431</span>
<div class="b" style="left:1168.5px;top:519.7px;width:77.50px;height:41.30px;background:#b0937a;"></div>
<span class="t" style="left:1207.49px;top:542.09px;font-size:24.32px;color:#fbf7f4;transform:translate(-50%,-50%) scaleX(0.612)">90897</span>
<div class="b" style="left:1250.5px;top:532.7px;width:42.50px;height:28.30px;background:#b0937a;"></div>
<span class="t" style="left:1271.73px;top:548.00px;font-size:20.11px;color:#fbf7f4;transform:translate(-50%,-50%) scaleX(0.581)">82430</span>
<div class="b" style="left:1296px;top:519.7px;width:77.50px;height:41.30px;background:#8b7865;"></div>
<span class="t" style="left:1334.99px;top:542.09px;font-size:24.32px;color:#fbf7f4;transform:translate(-50%,-50%) scaleX(0.612)">90903</span>
<div class="b" style="left:1376px;top:532.7px;width:42.00px;height:28.30px;background:#8b7865;"></div>
<span class="t" style="left:1396.98px;top:548.00px;font-size:20.11px;color:#fbf7f4;transform:translate(-50%,-50%) scaleX(0.581)">90653</span>
<div class="b" style="left:1421px;top:519.7px;width:77.50px;height:41.30px;background:#a3a586;"></div>
<span class="t" style="left:1459.99px;top:542.09px;font-size:24.32px;color:#fbf7f4;transform:translate(-50%,-50%) scaleX(0.612)">90899</span>
<div class="b" style="left:1502px;top:532.7px;width:42.50px;height:28.30px;background:#a3a586;"></div>
<span class="t" style="left:1523.23px;top:548.00px;font-size:20.11px;color:#fbf7f4;transform:translate(-50%,-50%) scaleX(0.581)">82432</span>
<div class="b" style="left:1549px;top:519.7px;width:77.00px;height:41.30px;background:#6b7a77;"></div>
<span class="t" style="left:1587.74px;top:542.09px;font-size:24.32px;color:#fbf7f4;transform:translate(-50%,-50%) scaleX(0.612)">82433</span>
<div class="b" style="left:1630px;top:532.7px;width:43.00px;height:28.30px;background:#6b7a77;"></div>
<span class="t" style="left:1651.48px;top:548.00px;font-size:20.11px;color:#fbf7f4;transform:translate(-50%,-50%) scaleX(0.581)">82433</span>
<div class="b" style="left:131.5px;top:592.2px;width:36.50px;height:42.80px;background:#7b3a4c;"></div>
<span class="t" style="left:150.74px;top:613.74px;font-size:19.27px;color:#fbf7f4;transform:translate(-50%,-50%) rotate(-90deg) scaleX(0.617)">90708</span>
<div class="b" style="left:171.5px;top:587.2px;width:40.00px;height:47.80px;background:#7b3a4c;"></div>
<span class="t" style="left:192.49px;top:611.24px;font-size:19.27px;color:#fbf7f4;transform:translate(-50%,-50%) rotate(-90deg) scaleX(0.617)">90717</span>
<div class="b" style="left:215px;top:587.2px;width:39.50px;height:47.80px;background:#7b3a4c;"></div>
<span class="t" style="left:235.74px;top:611.24px;font-size:19.27px;color:#fbf7f4;transform:translate(-50%,-50%) rotate(-90deg) scaleX(0.617)">90717</span>
<div class="b" style="left:258.5px;top:592.2px;width:37.00px;height:42.80px;background:#c55b5b;"></div>
<span class="t" style="left:277.99px;top:613.74px;font-size:19.27px;color:#fbf7f4;transform:translate(-50%,-50%) rotate(-90deg) scaleX(0.617)">82434</span>
<div class="b" style="left:299px;top:587.2px;width:39.50px;height:47.80px;background:#c55b5b;"></div>
<span class="t" style="left:319.74px;top:611.24px;font-size:19.27px;color:#fbf7f4;transform:translate(-50%,-50%) rotate(-90deg) scaleX(0.617)">82443</span>
<div class="b" style="left:341.5px;top:587.2px;width:40.00px;height:47.80px;background:#c55b5b;"></div>
<span class="t" style="left:362.49px;top:611.24px;font-size:19.27px;color:#fbf7f4;transform:translate(-50%,-50%) rotate(-90deg) scaleX(0.617)">82443</span>
<div class="b" style="left:386.5px;top:592.2px;width:36.50px;height:42.80px;background:#f0c3bd;"></div>
<span class="t" style="left:405.74px;top:613.74px;font-size:19.27px;color:#ffffff;transform:translate(-50%,-50%) rotate(-90deg) scaleX(0.617)">82435</span>
<div class="b" style="left:427px;top:587.2px;width:39.50px;height:47.80px;background:#f0c3bd;"></div>
<span class="t" style="left:447.74px;top:611.24px;font-size:19.27px;color:#ffffff;transform:translate(-50%,-50%) rotate(-90deg) scaleX(0.617)">82444</span>
<div class="b" style="left:469.5px;top:587.2px;width:40.00px;height:47.80px;background:#f0c3bd;"></div>
<span class="t" style="left:490.49px;top:611.24px;font-size:19.27px;color:#ffffff;transform:translate(-50%,-50%) rotate(-90deg) scaleX(0.617)">82444</span>
<div class="b" style="left:513px;top:592.2px;width:36.50px;height:42.80px;background:#efd7dc;"></div>
<span class="t" style="left:532.24px;top:613.74px;font-size:19.27px;color:#ffffff;transform:translate(-50%,-50%) rotate(-90deg) scaleX(0.617)">82436</span>
<div class="b" style="left:553px;top:587.2px;width:40.00px;height:47.80px;background:#efd7dc;"></div>
<span class="t" style="left:573.99px;top:611.24px;font-size:19.27px;color:#ffffff;transform:translate(-50%,-50%) rotate(-90deg) scaleX(0.617)">82445</span>
<div class="b" style="left:596px;top:587.2px;width:40.00px;height:47.80px;background:#efd7dc;"></div>
<span class="t" style="left:616.99px;top:611.24px;font-size:19.27px;color:#ffffff;transform:translate(-50%,-50%) rotate(-90deg) scaleX(0.617)">82445</span>
<div class="b" style="left:653.5px;top:592.2px;width:36.50px;height:42.80px;background:#c0b9cc;"></div>
<span class="t" style="left:672.74px;top:613.74px;font-size:19.27px;color:#ffffff;transform:translate(-50%,-50%) rotate(-90deg) scaleX(0.617)">90706</span>
<div class="b" style="left:694px;top:587.2px;width:39.50px;height:47.80px;background:#c0b9cc;"></div>
<span class="t" style="left:714.74px;top:611.24px;font-size:19.27px;color:#ffffff;transform:translate(-50%,-50%) rotate(-90deg) scaleX(0.617)">90715</span>
<div class="b" style="left:736.5px;top:587.2px;width:40.00px;height:47.80px;background:#c0b9cc;"></div>
<span class="t" style="left:757.49px;top:611.24px;font-size:19.27px;color:#ffffff;transform:translate(-50%,-50%) rotate(-90deg) scaleX(0.617)">90715</span>
<div class="b w" style="left:780px;top:591.7px;width:37.50px;height:43.30px;"></div>
<span class="t d" style="left:799.93px;top:613.17px;font-size:19.68px;color:#141414;transform:translate(-50%,-50%) rotate(-90deg) scaleX(0.609)">82437</span>
<div class="b w" style="left:820px;top:586.7px;width:40.50px;height:48.30px;"></div>
<span class="t d" style="left:841.43px;top:610.67px;font-size:19.68px;color:#141414;transform:translate(-50%,-50%) rotate(-90deg) scaleX(0.609)">82446</span>
<div class="b w" style="left:863.5px;top:586.7px;width:40.50px;height:48.30px;"></div>
<span class="t d" style="left:884.93px;top:610.67px;font-size:19.68px;color:#141414;transform:translate(-50%,-50%) rotate(-90deg) scaleX(0.609)">82446</span>
<div class="b" style="left:908px;top:592.2px;width:36.50px;height:42.80px;background:#f2eac8;"></div>
<span class="t d" style="left:927.43px;top:613.42px;font-size:19.68px;color:#141414;transform:translate(-50%,-50%) rotate(-90deg) scaleX(0.609)">82438</span>
<div class="b" style="left:949px;top:587.2px;width:39.00px;height:47.80px;background:#f2eac8;"></div>
<span class="t d" style="left:969.68px;top:610.92px;font-size:19.68px;color:#141414;transform:translate(-50%,-50%) rotate(-90deg) scaleX(0.609)">82447</span>
<div class="b" style="left:991.5px;top:587.2px;width:39.50px;height:47.80px;background:#f2eac8;"></div>
<span class="t d" style="left:1012.43px;top:610.92px;font-size:19.68px;color:#141414;transform:translate(-50%,-50%) rotate(-90deg) scaleX(0.609)">82447</span>
<div class="b" style="left:1035px;top:592.2px;width:36.50px;height:42.80px;background:#b98a53;"></div>
<span class="t" style="left:1054.24px;top:613.74px;font-size:19.27px;color:#fbf7f4;transform:translate(-50%,-50%) rotate(-90deg) scaleX(0.617)">82440</span>
<div class="b" style="left:1075px;top:587.2px;width:40.00px;height:47.80px;background:#b98a53;"></div>
<span class="t" style="left:1095.99px;top:611.24px;font-size:19.27px;color:#fbf7f4;transform:translate(-50%,-50%) rotate(-90deg) scaleX(0.617)">82449</span>
<div class="b" style="left:1118.5px;top:587.2px;width:39.00px;height:47.80px;background:#b98a53;"></div>
<span class="t" style="left:1138.99px;top:611.24px;font-size:19.27px;color:#fbf7f4;transform:translate(-50%,-50%) rotate(-90deg) scaleX(0.617)">82449</span>
<div class="b" style="left:1168.5px;top:592.2px;width:36.50px;height:42.80px;background:#b0937a;"></div>
<span class="t" style="left:1187.74px;top:613.74px;font-size:19.27px;color:#fbf7f4;transform:translate(-50%,-50%) rotate(-90deg) scaleX(0.617)">82439</span>
<div class="b" style="left:1208.5px;top:587.2px;width:40.00px;height:47.80px;background:#b0937a;"></div>
<span class="t" style="left:1229.49px;top:611.24px;font-size:19.27px;color:#fbf7f4;transform:translate(-50%,-50%) rotate(-90deg) scaleX(0.617)">82448</span>
<div class="b" style="left:1252px;top:587.2px;width:39.50px;height:47.80px;background:#b0937a;"></div>
<span class="t" style="left:1272.74px;top:611.24px;font-size:19.27px;color:#fbf7f4;transform:translate(-50%,-50%) rotate(-90deg) scaleX(0.617)">82448</span>
<div class="b" style="left:1296px;top:592.2px;width:36.50px;height:42.80px;background:#8b7865;"></div>
<span class="t" style="left:1315.24px;top:613.74px;font-size:19.27px;color:#fbf7f4;transform:translate(-50%,-50%) rotate(-90deg) scaleX(0.617)">90707</span>
<div class="b" style="left:1336px;top:587.2px;width:39.50px;height:47.80px;background:#8b7865;"></div>
<span class="t" style="left:1356.74px;top:611.24px;font-size:19.27px;color:#fbf7f4;transform:translate(-50%,-50%) rotate(-90deg) scaleX(0.617)">90716</span>
<div class="b" style="left:1378.5px;top:587.2px;width:40.00px;height:47.80px;background:#8b7865;"></div>
<span class="t" style="left:1399.49px;top:611.24px;font-size:19.27px;color:#fbf7f4;transform:translate(-50%,-50%) rotate(-90deg) scaleX(0.617)">90716</span>
<div class="b" style="left:1423.5px;top:592.2px;width:36.50px;height:42.80px;background:#a3a586;"></div>
<span class="t" style="left:1442.74px;top:613.74px;font-size:19.27px;color:#fbf7f4;transform:translate(-50%,-50%) rotate(-90deg) scaleX(0.617)">82441</span>
<div class="b" style="left:1463.5px;top:587.2px;width:40.00px;height:47.80px;background:#a3a586;"></div>
<span class="t" style="left:1484.49px;top:611.24px;font-size:19.27px;color:#fbf7f4;transform:translate(-50%,-50%) rotate(-90deg) scaleX(0.617)">82450</span>
<div class="b" style="left:1507px;top:587.2px;width:39.50px;height:47.80px;background:#a3a586;"></div>
<span class="t" style="left:1527.74px;top:611.24px;font-size:19.27px;color:#fbf7f4;transform:translate(-50%,-50%) rotate(-90deg) scaleX(0.617)">82450</span>
<div class="b" style="left:1550px;top:592.2px;width:36.50px;height:42.80px;background:#6b7a77;"></div>
<span class="t" style="left:1569.24px;top:613.74px;font-size:19.27px;color:#fbf7f4;transform:translate(-50%,-50%) rotate(-90deg) scaleX(0.617)">82442</span>
<div class="b" style="left:1590px;top:587.2px;width:40.00px;height:47.80px;background:#6b7a77;"></div>
<span class="t" style="left:1610.99px;top:611.24px;font-size:19.27px;color:#fbf7f4;transform:translate(-50%,-50%) rotate(-90deg) scaleX(0.617)">82451</span>
<div class="b" style="left:1633px;top:587.2px;width:40.00px;height:47.80px;background:#6b7a77;"></div>
<span class="t" style="left:1653.99px;top:611.24px;font-size:19.27px;color:#fbf7f4;transform:translate(-50%,-50%) rotate(-90deg) scaleX(0.617)">82451</span>
<div class="b" style="left:134px;top:665.2px;width:37.00px;height:54.80px;background:#7b3a4c;"></div>
<span class="t" style="left:153.61px;top:692.41px;font-size:18.92px;color:#fbf7f4;transform:translate(-50%,-50%) rotate(-90deg) scaleX(0.630)">90999</span>
<div class="b" style="left:176px;top:665.2px;width:37.00px;height:54.80px;background:#7b3a4c;"></div>
<span class="t" style="left:195.61px;top:692.41px;font-size:18.92px;color:#fbf7f4;transform:translate(-50%,-50%) rotate(-90deg) scaleX(0.630)">90999</span>
<div class="b" style="left:220px;top:665.2px;width:29.50px;height:54.80px;background:#7b3a4c;"></div>
<span class="t" style="left:235.86px;top:692.41px;font-size:18.92px;color:#fbf7f4;transform:translate(-50%,-50%) rotate(-90deg) scaleX(0.630)">91021</span>
<div class="b" style="left:263px;top:665.2px;width:36.50px;height:54.80px;background:#c55b5b;"></div>
<span class="t" style="left:282.36px;top:692.41px;font-size:18.92px;color:#fbf7f4;transform:translate(-50%,-50%) rotate(-90deg) scaleX(0.630)">90940</span>
<div class="b" style="left:304.5px;top:665.2px;width:36.50px;height:54.80px;background:#c55b5b;"></div>
<span class="t" style="left:323.86px;top:692.41px;font-size:18.92px;color:#fbf7f4;transform:translate(-50%,-50%) rotate(-90deg) scaleX(0.630)">90940</span>
<div class="b" style="left:348.5px;top:665.2px;width:29.50px;height:54.80px;background:#c55b5b;"></div>
<span class="t" style="left:364.36px;top:692.41px;font-size:18.92px;color:#fbf7f4;transform:translate(-50%,-50%) rotate(-90deg) scaleX(0.630)">90943</span>
<div class="b" style="left:389px;top:665.2px;width:37.00px;height:54.80px;background:#f0c3bd;"></div>
<span class="t" style="left:408.61px;top:692.41px;font-size:18.92px;color:#ffffff;transform:translate(-50%,-50%) rotate(-90deg) scaleX(0.630)">90990</span>
<div class="b" style="left:430.5px;top:665.2px;width:37.00px;height:54.80px;background:#f0c3bd;"></div>
<span class="t" style="left:450.11px;top:692.41px;font-size:18.92px;color:#ffffff;transform:translate(-50%,-50%) rotate(-90deg) scaleX(0.630)">90990</span>
<div class="b" style="left:474.5px;top:665.2px;width:30.00px;height:54.80px;background:#f0c3bd;"></div>
<span class="t" style="left:490.61px;top:692.41px;font-size:18.92px;color:#ffffff;transform:translate(-50%,-50%) rotate(-90deg) scaleX(0.630)">91012</span>
<div class="b" style="left:514px;top:665.2px;width:36.50px;height:54.80px;background:#efd7dc;"></div>
<span class="t" style="left:533.36px;top:692.41px;font-size:18.92px;color:#ffffff;transform:translate(-50%,-50%) rotate(-90deg) scaleX(0.630)">90991</span>
<div class="b" style="left:555px;top:665.2px;width:37.00px;height:54.80px;background:#efd7dc;"></div>
<span class="t" style="left:574.61px;top:692.41px;font-size:18.92px;color:#ffffff;transform:translate(-50%,-50%) rotate(-90deg) scaleX(0.630)">90991</span>
<div class="b" style="left:599px;top:665.2px;width:30.00px;height:54.80px;background:#efd7dc;"></div>
<span class="t" style="left:615.11px;top:692.41px;font-size:18.92px;color:#ffffff;transform:translate(-50%,-50%) rotate(-90deg) scaleX(0.630)">91013</span>
<div class="b" style="left:658px;top:665.2px;width:36.50px;height:54.80px;background:#c0b9cc;"></div>
<span class="t" style="left:677.36px;top:692.41px;font-size:18.92px;color:#ffffff;transform:translate(-50%,-50%) rotate(-90deg) scaleX(0.630)">90998</span>
<div class="b" style="left:699px;top:665.2px;width:37.00px;height:54.80px;background:#c0b9cc;"></div>
<span class="t" style="left:718.61px;top:692.41px;font-size:18.92px;color:#ffffff;transform:translate(-50%,-50%) rotate(-90deg) scaleX(0.630)">90998</span>
<div class="b" style="left:743px;top:665.2px;width:30.00px;height:54.80px;background:#c0b9cc;"></div>
<span class="t" style="left:759.11px;top:692.41px;font-size:18.92px;color:#ffffff;transform:translate(-50%,-50%) rotate(-90deg) scaleX(0.630)">91020</span>
<div class="b w" style="left:786px;top:664.7px;width:37.50px;height:55.30px;"></div>
<span class="t d" style="left:805.80px;top:692.40px;font-size:19.46px;color:#141414;transform:translate(-50%,-50%) rotate(-90deg) scaleX(0.617)">90992</span>
<div class="b w" style="left:827.5px;top:664.7px;width:37.00px;height:55.30px;"></div>
<span class="t d" style="left:847.05px;top:692.40px;font-size:19.46px;color:#141414;transform:translate(-50%,-50%) rotate(-90deg) scaleX(0.617)">90992</span>
<div class="b w" style="left:871.5px;top:664.7px;width:30.00px;height:55.30px;"></div>
<span class="t d" style="left:887.55px;top:692.40px;font-size:19.46px;color:#141414;transform:translate(-50%,-50%) rotate(-90deg) scaleX(0.617)">91014</span>
<div class="b" style="left:912.5px;top:665.2px;width:36.50px;height:54.80px;background:#f2eac8;"></div>
<span class="t d" style="left:931.80px;top:692.65px;font-size:19.46px;color:#141414;transform:translate(-50%,-50%) rotate(-90deg) scaleX(0.617)">90993</span>
<div class="b" style="left:954px;top:665.2px;width:37.00px;height:54.80px;background:#f2eac8;"></div>
<span class="t d" style="left:973.55px;top:692.65px;font-size:19.46px;color:#141414;transform:translate(-50%,-50%) rotate(-90deg) scaleX(0.617)">90993</span>
<div class="b" style="left:998px;top:665.2px;width:29.50px;height:54.80px;background:#f2eac8;"></div>
<span class="t d" style="left:1013.80px;top:692.65px;font-size:19.46px;color:#141414;transform:translate(-50%,-50%) rotate(-90deg) scaleX(0.617)">91015</span>
<div class="b" style="left:1037.5px;top:665.2px;width:36.00px;height:54.80px;background:#b98a53;"></div>
<span class="t" style="left:1056.61px;top:692.41px;font-size:18.92px;color:#fbf7f4;transform:translate(-50%,-50%) rotate(-90deg) scaleX(0.630)">90995</span>
<div class="b" style="left:1078.5px;top:665.2px;width:37.00px;height:54.80px;background:#b98a53;"></div>
<span class="t" style="left:1098.11px;top:692.41px;font-size:18.92px;color:#fbf7f4;transform:translate(-50%,-50%) rotate(-90deg) scaleX(0.630)">90995</span>
<div class="b" style="left:1122.5px;top:665.2px;width:29.50px;height:54.80px;background:#b98a53;"></div>
<span class="t" style="left:1138.36px;top:692.41px;font-size:18.92px;color:#fbf7f4;transform:translate(-50%,-50%) rotate(-90deg) scaleX(0.630)">91017</span>
<div class="b" style="left:1173.5px;top:665.2px;width:36.50px;height:54.80px;background:#b0937a;"></div>
<span class="t" style="left:1192.86px;top:692.41px;font-size:18.92px;color:#fbf7f4;transform:translate(-50%,-50%) rotate(-90deg) scaleX(0.630)">90994</span>
<div class="b" style="left:1215px;top:665.2px;width:37.00px;height:54.80px;background:#b0937a;"></div>
<span class="t" style="left:1234.61px;top:692.41px;font-size:18.92px;color:#fbf7f4;transform:translate(-50%,-50%) rotate(-90deg) scaleX(0.630)">90994</span>
<div class="b" style="left:1259px;top:665.2px;width:29.50px;height:54.80px;background:#b0937a;"></div>
<span class="t" style="left:1274.86px;top:692.41px;font-size:18.92px;color:#fbf7f4;transform:translate(-50%,-50%) rotate(-90deg) scaleX(0.630)">91016</span>
<div class="b" style="left:1302px;top:665.2px;width:36.50px;height:54.80px;background:#8b7865;"></div>
<span class="t" style="left:1321.36px;top:692.41px;font-size:18.92px;color:#fbf7f4;transform:translate(-50%,-50%) rotate(-90deg) scaleX(0.630)">91000</span>
<div class="b" style="left:1343.5px;top:665.2px;width:36.50px;height:54.80px;background:#8b7865;"></div>
<span class="t" style="left:1362.86px;top:692.41px;font-size:18.92px;color:#fbf7f4;transform:translate(-50%,-50%) rotate(-90deg) scaleX(0.630)">91000</span>
<div class="b" style="left:1387.5px;top:665.2px;width:29.50px;height:54.80px;background:#8b7865;"></div>
<span class="t" style="left:1403.36px;top:692.41px;font-size:18.92px;color:#fbf7f4;transform:translate(-50%,-50%) rotate(-90deg) scaleX(0.630)">91022</span>
<div class="b" style="left:1428px;top:665.2px;width:36.50px;height:54.80px;background:#a3a586;"></div>
<span class="t" style="left:1447.36px;top:692.41px;font-size:18.92px;color:#fbf7f4;transform:translate(-50%,-50%) rotate(-90deg) scaleX(0.630)">90996</span>
<div class="b" style="left:1469.5px;top:665.2px;width:37.00px;height:54.80px;background:#a3a586;"></div>
<span class="t" style="left:1489.11px;top:692.41px;font-size:18.92px;color:#fbf7f4;transform:translate(-50%,-50%) rotate(-90deg) scaleX(0.630)">90996</span>
<div class="b" style="left:1513.5px;top:665.2px;width:30.00px;height:54.80px;background:#a3a586;"></div>
<span class="t" style="left:1529.61px;top:692.41px;font-size:18.92px;color:#fbf7f4;transform:translate(-50%,-50%) rotate(-90deg) scaleX(0.630)">91018</span>
<div class="b" style="left:1553px;top:665.2px;width:36.50px;height:54.80px;background:#6b7a77;"></div>
<span class="t" style="left:1572.36px;top:692.41px;font-size:18.92px;color:#fbf7f4;transform:translate(-50%,-50%) rotate(-90deg) scaleX(0.630)">90997</span>
<div class="b" style="left:1594px;top:665.2px;width:37.00px;height:54.80px;background:#6b7a77;"></div>
<span class="t" style="left:1613.61px;top:692.41px;font-size:18.92px;color:#fbf7f4;transform:translate(-50%,-50%) rotate(-90deg) scaleX(0.630)">90997</span>
<div class="b" style="left:1638.5px;top:665.2px;width:29.50px;height:54.80px;background:#6b7a77;"></div>
<span class="t" style="left:1654.36px;top:692.41px;font-size:18.92px;color:#fbf7f4;transform:translate(-50%,-50%) rotate(-90deg) scaleX(0.630)">91019</span>
<div class="b" style="left:133px;top:748.7px;width:23.50px;height:93.30px;background:#7b3a4c;"></div>
<span class="t" style="left:144.91px;top:795.26px;font-size:18.92px;color:#fbf7f4;transform:translate(-50%,-50%) rotate(-90deg) scaleX(0.624)">90702</span>
<div class="b" style="left:159.5px;top:748.7px;width:23.50px;height:93.30px;background:#7b3a4c;"></div>
<span class="t" style="left:171.41px;top:795.26px;font-size:18.92px;color:#fbf7f4;transform:translate(-50%,-50%) rotate(-90deg) scaleX(0.624)">90702</span>
<div class="b" style="left:188.5px;top:748.7px;width:30.00px;height:93.30px;background:#7b3a4c;"></div>
<span class="t" style="left:204.60px;top:795.60px;font-size:24.47px;color:#fbf7f4;transform:translate(-50%,-50%) rotate(-90deg) scaleX(0.609)">91032</span>
<div class="b" style="left:221px;top:748.7px;width:30.50px;height:93.30px;background:#7b3a4c;"></div>
<span class="t" style="left:237.35px;top:795.60px;font-size:24.47px;color:#fbf7f4;transform:translate(-50%,-50%) rotate(-90deg) scaleX(0.609)">91032</span>
<div class="b" style="left:257px;top:748.7px;width:23.50px;height:93.30px;background:#c55b5b;"></div>
<span class="t" style="left:268.91px;top:795.26px;font-size:18.92px;color:#fbf7f4;transform:translate(-50%,-50%) rotate(-90deg) scaleX(0.624)">82398</span>
<div class="b" style="left:283.5px;top:748.7px;width:23.50px;height:93.30px;background:#c55b5b;"></div>
<span class="t" style="left:295.41px;top:795.26px;font-size:18.92px;color:#fbf7f4;transform:translate(-50%,-50%) rotate(-90deg) scaleX(0.624)">82398</span>
<div class="b" style="left:312px;top:748.7px;width:30.50px;height:93.30px;background:#c55b5b;"></div>
<span class="t" style="left:328.35px;top:795.60px;font-size:24.47px;color:#fbf7f4;transform:translate(-50%,-50%) rotate(-90deg) scaleX(0.609)">90945</span>
<div class="b" style="left:345px;top:748.7px;width:30.50px;height:93.30px;background:#c55b5b;"></div>
<span class="t" style="left:361.35px;top:795.60px;font-size:24.47px;color:#fbf7f4;transform:translate(-50%,-50%) rotate(-90deg) scaleX(0.609)">90945</span>
<div class="b" style="left:385.5px;top:750.0px;width:23.50px;height:90.60px;background:#f0c3bd;"></div>
<span class="t" style="left:397.41px;top:795.21px;font-size:18.92px;color:#ffffff;transform:translate(-50%,-50%) rotate(-90deg) scaleX(0.624)">82399</span>
<div class="b" style="left:412px;top:750.0px;width:23.50px;height:90.60px;background:#f0c3bd;"></div>
<span class="t" style="left:423.91px;top:795.21px;font-size:18.92px;color:#ffffff;transform:translate(-50%,-50%) rotate(-90deg) scaleX(0.624)">82399</span>
<div class="b" style="left:440.5px;top:750.0px;width:30.50px;height:90.60px;background:#f0c3bd;"></div>
<span class="t" style="left:456.85px;top:795.55px;font-size:24.47px;color:#ffffff;transform:translate(-50%,-50%) rotate(-90deg) scaleX(0.609)">91023</span>
<div class="b" style="left:473.5px;top:750.0px;width:30.50px;height:90.60px;background:#f0c3bd;"></div>
<span class="t" style="left:489.85px;top:795.55px;font-size:24.47px;color:#ffffff;transform:translate(-50%,-50%) rotate(-90deg) scaleX(0.609)">91023</span>
<div class="b" style="left:512px;top:750.0px;width:23.50px;height:90.60px;background:#efd7dc;"></div>
<span class="t" style="left:523.91px;top:795.21px;font-size:18.92px;color:#ffffff;transform:translate(-50%,-50%) rotate(-90deg) scaleX(0.624)">82400</span>
<div class="b" style="left:538px;top:750.0px;width:24.00px;height:90.60px;background:#efd7dc;"></div>
<span class="t" style="left:550.16px;top:795.21px;font-size:18.92px;color:#ffffff;transform:translate(-50%,-50%) rotate(-90deg) scaleX(0.624)">82400</span>
<div class="b" style="left:566.5px;top:750.0px;width:30.50px;height:90.60px;background:#efd7dc;"></div>
<span class="t" style="left:582.85px;top:795.55px;font-size:24.47px;color:#ffffff;transform:translate(-50%,-50%) rotate(-90deg) scaleX(0.609)">91024</span>
<div class="b" style="left:599.5px;top:750.0px;width:31.00px;height:90.60px;background:#efd7dc;"></div>
<span class="t" style="left:616.10px;top:795.55px;font-size:24.47px;color:#ffffff;transform:translate(-50%,-50%) rotate(-90deg) scaleX(0.609)">91024</span>
<div class="b" style="left:655px;top:748.7px;width:24.00px;height:93.30px;background:#c0b9cc;"></div>
<span class="t" style="left:667.16px;top:795.26px;font-size:18.92px;color:#ffffff;transform:translate(-50%,-50%) rotate(-90deg) scaleX(0.624)">90700</span>
<div class="b" style="left:681.5px;top:748.7px;width:24.00px;height:93.30px;background:#c0b9cc;"></div>
<span class="t" style="left:693.66px;top:795.26px;font-size:18.92px;color:#ffffff;transform:translate(-50%,-50%) rotate(-90deg) scaleX(0.624)">90700</span>
<div class="b" style="left:710px;top:748.7px;width:30.50px;height:93.30px;background:#c0b9cc;"></div>
<span class="t" style="left:726.35px;top:795.60px;font-size:24.47px;color:#ffffff;transform:translate(-50%,-50%) rotate(-90deg) scaleX(0.609)">91031</span>
<div class="b" style="left:743px;top:748.7px;width:30.50px;height:93.30px;background:#c0b9cc;"></div>
<span class="t" style="left:759.35px;top:795.60px;font-size:24.47px;color:#ffffff;transform:translate(-50%,-50%) rotate(-90deg) scaleX(0.609)">91031</span>
<div class="b w" style="left:778.5px;top:748.7px;width:25.00px;height:93.30px;"></div>
<span class="t d" style="left:792.08px;top:795.17px;font-size:19.31px;color:#141414;transform:translate(-50%,-50%) rotate(-90deg) scaleX(0.622)">82401</span>
<div class="b w" style="left:805px;top:748.7px;width:25.00px;height:93.30px;"></div>
<span class="t d" style="left:818.58px;top:795.17px;font-size:19.31px;color:#141414;transform:translate(-50%,-50%) rotate(-90deg) scaleX(0.622)">82401</span>
<div class="b w" style="left:834px;top:748.7px;width:31.50px;height:93.30px;"></div>
<span class="t d" style="left:850.85px;top:795.32px;font-size:24.83px;color:#141414;transform:translate(-50%,-50%) rotate(-90deg) scaleX(0.599)">91025</span>
<div class="b w" style="left:866.5px;top:748.7px;width:31.50px;height:93.30px;"></div>
<span class="t d" style="left:883.35px;top:795.32px;font-size:24.83px;color:#141414;transform:translate(-50%,-50%) rotate(-90deg) scaleX(0.599)">91025</span>
<div class="b" style="left:907.5px;top:750.0px;width:23.50px;height:90.60px;background:#f2eac8;"></div>
<span class="t d" style="left:920.33px;top:795.12px;font-size:19.31px;color:#141414;transform:translate(-50%,-50%) rotate(-90deg) scaleX(0.622)">82402</span>
<div class="b" style="left:934px;top:750.0px;width:23.50px;height:90.60px;background:#f2eac8;"></div>
<span class="t d" style="left:946.83px;top:795.12px;font-size:19.31px;color:#141414;transform:translate(-50%,-50%) rotate(-90deg) scaleX(0.622)">82402</span>
<div class="b" style="left:963px;top:750.0px;width:30.50px;height:90.60px;background:#f2eac8;"></div>
<span class="t d" style="left:979.35px;top:795.27px;font-size:24.83px;color:#141414;transform:translate(-50%,-50%) rotate(-90deg) scaleX(0.599)">91026</span>
<div class="b" style="left:995.5px;top:750.0px;width:30.50px;height:90.60px;background:#f2eac8;"></div>
<span class="t d" style="left:1011.85px;top:795.27px;font-size:24.83px;color:#141414;transform:translate(-50%,-50%) rotate(-90deg) scaleX(0.599)">91026</span>
<div class="b" style="left:1034px;top:748.7px;width:23.50px;height:93.30px;background:#b98a53;"></div>
<span class="t" style="left:1045.91px;top:795.26px;font-size:18.92px;color:#fbf7f4;transform:translate(-50%,-50%) rotate(-90deg) scaleX(0.624)">82404</span>
<div class="b" style="left:1060.5px;top:748.7px;width:23.50px;height:93.30px;background:#b98a53;"></div>
<span class="t" style="left:1072.41px;top:795.26px;font-size:18.92px;color:#fbf7f4;transform:translate(-50%,-50%) rotate(-90deg) scaleX(0.624)">82404</span>
<div class="b" style="left:1089px;top:748.7px;width:30.50px;height:93.30px;background:#b98a53;"></div>
<span class="t" style="left:1105.35px;top:795.60px;font-size:24.47px;color:#fbf7f4;transform:translate(-50%,-50%) rotate(-90deg) scaleX(0.609)">91028</span>
<div class="b" style="left:1121.5px;top:748.7px;width:31.00px;height:93.30px;background:#b98a53;"></div>
<span class="t" style="left:1138.10px;top:795.60px;font-size:24.47px;color:#fbf7f4;transform:translate(-50%,-50%) rotate(-90deg) scaleX(0.609)">91028</span>
<div class="b" style="left:1172px;top:748.7px;width:23.50px;height:93.30px;background:#b0937a;"></div>
<span class="t" style="left:1183.91px;top:795.26px;font-size:18.92px;color:#fbf7f4;transform:translate(-50%,-50%) rotate(-90deg) scaleX(0.624)">82403</span>
<div class="b" style="left:1198.5px;top:748.7px;width:23.50px;height:93.30px;background:#b0937a;"></div>
<span class="t" style="left:1210.41px;top:795.26px;font-size:18.92px;color:#fbf7f4;transform:translate(-50%,-50%) rotate(-90deg) scaleX(0.624)">82403</span>
<div class="b" style="left:1227px;top:748.7px;width:31.00px;height:93.30px;background:#b0937a;"></div>
<span class="t" style="left:1243.60px;top:795.60px;font-size:24.47px;color:#fbf7f4;transform:translate(-50%,-50%) rotate(-90deg) scaleX(0.609)">91027</span>
<div class="b" style="left:1260px;top:748.7px;width:30.50px;height:93.30px;background:#b0937a;"></div>
<span class="t" style="left:1276.35px;top:795.60px;font-size:24.47px;color:#fbf7f4;transform:translate(-50%,-50%) rotate(-90deg) scaleX(0.609)">91027</span>
<div class="b" style="left:1296px;top:748.7px;width:23.50px;height:93.30px;background:#8b7865;"></div>
<span class="t" style="left:1307.91px;top:795.26px;font-size:18.92px;color:#fbf7f4;transform:translate(-50%,-50%) rotate(-90deg) scaleX(0.624)">90701</span>
<div class="b" style="left:1322.5px;top:748.7px;width:23.50px;height:93.30px;background:#8b7865;"></div>
<span class="t" style="left:1334.41px;top:795.26px;font-size:18.92px;color:#fbf7f4;transform:translate(-50%,-50%) rotate(-90deg) scaleX(0.624)">90701</span>
<div class="b" style="left:1351px;top:748.7px;width:30.50px;height:93.30px;background:#8b7865;"></div>
<span class="t" style="left:1367.35px;top:795.60px;font-size:24.47px;color:#fbf7f4;transform:translate(-50%,-50%) rotate(-90deg) scaleX(0.609)">91033</span>
<div class="b" style="left:1384px;top:748.7px;width:30.50px;height:93.30px;background:#8b7865;"></div>
<span class="t" style="left:1400.35px;top:795.60px;font-size:24.47px;color:#fbf7f4;transform:translate(-50%,-50%) rotate(-90deg) scaleX(0.609)">91033</span>
<div class="b" style="left:1424.5px;top:750.0px;width:24.00px;height:92.00px;background:#a3a586;"></div>
<span class="t" style="left:1436.66px;top:795.91px;font-size:18.92px;color:#fbf7f4;transform:translate(-50%,-50%) rotate(-90deg) scaleX(0.624)">82405</span>
<div class="b" style="left:1451px;top:750.0px;width:24.00px;height:92.00px;background:#a3a586;"></div>
<span class="t" style="left:1463.16px;top:795.91px;font-size:18.92px;color:#fbf7f4;transform:translate(-50%,-50%) rotate(-90deg) scaleX(0.624)">82405</span>
<div class="b" style="left:1479.5px;top:750.0px;width:30.50px;height:92.00px;background:#a3a586;"></div>
<span class="t" style="left:1495.85px;top:796.25px;font-size:24.47px;color:#fbf7f4;transform:translate(-50%,-50%) rotate(-90deg) scaleX(0.609)">91029</span>
<div class="b" style="left:1512.5px;top:750.0px;width:31.00px;height:92.00px;background:#a3a586;"></div>
<span class="t" style="left:1529.10px;top:796.25px;font-size:24.47px;color:#fbf7f4;transform:translate(-50%,-50%) rotate(-90deg) scaleX(0.609)">91029</span>
<div class="b" style="left:1551px;top:750.0px;width:23.50px;height:92.00px;background:#6b7a77;"></div>
<span class="t" style="left:1562.91px;top:795.91px;font-size:18.92px;color:#fbf7f4;transform:translate(-50%,-50%) rotate(-90deg) scaleX(0.624)">82406</span>
<div class="b" style="left:1577.5px;top:750.0px;width:23.50px;height:92.00px;background:#6b7a77;"></div>
<span class="t" style="left:1589.41px;top:795.91px;font-size:18.92px;color:#fbf7f4;transform:translate(-50%,-50%) rotate(-90deg) scaleX(0.624)">82406</span>
<div class="b" style="left:1606px;top:750.0px;width:30.50px;height:92.00px;background:#6b7a77;"></div>
<span class="t" style="left:1622.35px;top:796.25px;font-size:24.47px;color:#fbf7f4;transform:translate(-50%,-50%) rotate(-90deg) scaleX(0.609)">91030</span>
<div class="b" style="left:1639px;top:750.0px;width:30.50px;height:92.00px;background:#6b7a77;"></div>
<span class="t" style="left:1655.35px;top:796.25px;font-size:24.47px;color:#fbf7f4;transform:translate(-50%,-50%) rotate(-90deg) scaleX(0.609)">91030</span>
<div class="b" style="left:129px;top:871.7px;width:60.50px;height:95.30px;background:#7b3a4c;"></div>
<span class="t" style="left:145.02px;top:919.37px;font-size:24.32px;color:#fbf7f4;transform:translate(-50%,-50%) rotate(-90deg) scaleX(0.607)">90714</span>
<div class="dv" style="left:158.50px;top:871.7px;height:95.30px"></div>
<span class="t" style="left:175.27px;top:919.37px;font-size:24.32px;color:#fbf7f4;transform:translate(-50%,-50%) rotate(-90deg) scaleX(0.607)">90714</span>
<div class="b" style="left:192px;top:883.2px;width:61.50px;height:83.80px;background:#7b3a4c;"></div>
<span class="t" style="left:222.91px;top:927.56px;font-size:24.80px;color:#fbf7f4;transform:translate(-50%,-50%) scaleX(0.600)">91010</span>
<div class="b" style="left:256.5px;top:871.7px;width:60.50px;height:95.30px;background:#c55b5b;"></div>
<span class="t" style="left:272.52px;top:919.37px;font-size:24.32px;color:#fbf7f4;transform:translate(-50%,-50%) rotate(-90deg) scaleX(0.607)">82407</span>
<div class="dv" style="left:286.00px;top:871.7px;height:95.30px"></div>
<span class="t" style="left:302.77px;top:919.37px;font-size:24.32px;color:#fbf7f4;transform:translate(-50%,-50%) rotate(-90deg) scaleX(0.607)">82407</span>
<div class="b" style="left:320px;top:883.2px;width:61.00px;height:83.80px;background:#c55b5b;"></div>
<span class="t" style="left:350.66px;top:927.56px;font-size:24.80px;color:#fbf7f4;transform:translate(-50%,-50%) scaleX(0.600)">90942</span>
<div class="b" style="left:384px;top:871.7px;width:60.50px;height:95.30px;background:#f0c3bd;"></div>
<span class="t" style="left:400.02px;top:919.37px;font-size:24.32px;color:#ffffff;transform:translate(-50%,-50%) rotate(-90deg) scaleX(0.607)">82408</span>
<div class="dv" style="left:413.50px;top:871.7px;height:95.30px"></div>
<span class="t" style="left:430.27px;top:919.37px;font-size:24.32px;color:#ffffff;transform:translate(-50%,-50%) rotate(-90deg) scaleX(0.607)">82408</span>
<div class="b" style="left:447.5px;top:883.2px;width:61.00px;height:83.80px;background:#f0c3bd;"></div>
<span class="t" style="left:478.16px;top:927.56px;font-size:24.80px;color:#ffffff;transform:translate(-50%,-50%) scaleX(0.600)">91001</span>
<div class="b" style="left:511.5px;top:871.7px;width:61.00px;height:95.30px;background:#efd7dc;"></div>
<span class="t" style="left:527.65px;top:919.37px;font-size:24.32px;color:#ffffff;transform:translate(-50%,-50%) rotate(-90deg) scaleX(0.607)">82409</span>
<div class="dv" style="left:541.25px;top:871.7px;height:95.30px"></div>
<span class="t" style="left:558.15px;top:919.37px;font-size:24.32px;color:#ffffff;transform:translate(-50%,-50%) rotate(-90deg) scaleX(0.607)">82409</span>
<div class="b" style="left:575px;top:883.2px;width:61.50px;height:83.80px;background:#efd7dc;"></div>
<span class="t" style="left:605.91px;top:927.56px;font-size:24.80px;color:#ffffff;transform:translate(-50%,-50%) scaleX(0.600)">91002</span>
<div class="b" style="left:649.5px;top:871.7px;width:60.50px;height:95.30px;background:#c0b9cc;"></div>
<span class="t" style="left:665.52px;top:919.37px;font-size:24.32px;color:#ffffff;transform:translate(-50%,-50%) rotate(-90deg) scaleX(0.607)">90712</span>
<div class="dv" style="left:679.00px;top:871.7px;height:95.30px"></div>
<span class="t" style="left:695.77px;top:919.37px;font-size:24.32px;color:#ffffff;transform:translate(-50%,-50%) rotate(-90deg) scaleX(0.607)">90712</span>
<div class="b" style="left:713px;top:883.2px;width:61.00px;height:83.80px;background:#c0b9cc;"></div>
<span class="t" style="left:743.66px;top:927.56px;font-size:24.80px;color:#ffffff;transform:translate(-50%,-50%) scaleX(0.600)">91009</span>
<div class="b w" style="left:776.5px;top:871.2px;width:31.00px;height:95.80px;"></div>
<span class="t d" style="left:793.00px;top:919.08px;font-size:24.76px;color:#141414;transform:translate(-50%,-50%) rotate(-90deg) scaleX(0.607)">82410</span>
<div class="b w" style="left:807px;top:871.2px;width:31.00px;height:95.80px;"></div>
<span class="t d" style="left:823.50px;top:919.08px;font-size:24.76px;color:#141414;transform:translate(-50%,-50%) rotate(-90deg) scaleX(0.607)">82410</span>
<div class="b w" style="left:840.5px;top:882.7px;width:61.50px;height:84.30px;"></div>
<span class="t d" style="left:871.07px;top:927.38px;font-size:25.52px;color:#141414;transform:translate(-50%,-50%) scaleX(0.586)">91003</span>
<div class="b" style="left:904.5px;top:871.7px;width:60.50px;height:95.30px;background:#f2eac8;"></div>
<span class="t d" style="left:920.62px;top:919.33px;font-size:24.76px;color:#141414;transform:translate(-50%,-50%) rotate(-90deg) scaleX(0.607)">82411</span>
<div class="dv" style="left:934.00px;top:871.7px;height:95.30px"></div>
<span class="t d" style="left:950.87px;top:919.33px;font-size:24.76px;color:#141414;transform:translate(-50%,-50%) rotate(-90deg) scaleX(0.607)">82411</span>
<div class="b" style="left:968px;top:883.2px;width:62.50px;height:83.80px;background:#f2eac8;"></div>
<span class="t d" style="left:999.07px;top:927.63px;font-size:25.52px;color:#141414;transform:translate(-50%,-50%) scaleX(0.586)">91004</span>
<div class="b" style="left:1032px;top:871.7px;width:61.00px;height:95.30px;background:#b98a53;"></div>
<span class="t" style="left:1048.15px;top:919.37px;font-size:24.32px;color:#fbf7f4;transform:translate(-50%,-50%) rotate(-90deg) scaleX(0.607)">90713</span>
<div class="dv" style="left:1061.75px;top:871.7px;height:95.30px"></div>
<span class="t" style="left:1078.65px;top:919.37px;font-size:24.32px;color:#fbf7f4;transform:translate(-50%,-50%) rotate(-90deg) scaleX(0.607)">90713</span>
<div class="b" style="left:1096px;top:883.2px;width:61.00px;height:83.80px;background:#b98a53;"></div>
<span class="t" style="left:1126.66px;top:927.56px;font-size:24.80px;color:#fbf7f4;transform:translate(-50%,-50%) scaleX(0.600)">91006</span>
<div class="b" style="left:1170.5px;top:871.7px;width:60.50px;height:95.30px;background:#b0937a;"></div>
<span class="t" style="left:1186.52px;top:919.37px;font-size:24.32px;color:#fbf7f4;transform:translate(-50%,-50%) rotate(-90deg) scaleX(0.607)">82412</span>
<div class="dv" style="left:1200.00px;top:871.7px;height:95.30px"></div>
<span class="t" style="left:1216.77px;top:919.37px;font-size:24.32px;color:#fbf7f4;transform:translate(-50%,-50%) rotate(-90deg) scaleX(0.607)">82412</span>
<div class="b" style="left:1234px;top:883.2px;width:61.00px;height:83.80px;background:#b0937a;"></div>
<span class="t" style="left:1264.66px;top:927.56px;font-size:24.80px;color:#fbf7f4;transform:translate(-50%,-50%) scaleX(0.600)">91005</span>
<div class="b" style="left:1298px;top:871.7px;width:61.00px;height:95.30px;background:#8b7865;"></div>
<span class="t" style="left:1314.15px;top:919.37px;font-size:24.32px;color:#fbf7f4;transform:translate(-50%,-50%) rotate(-90deg) scaleX(0.607)">90713</span>
<div class="dv" style="left:1327.75px;top:871.7px;height:95.30px"></div>
<span class="t" style="left:1344.65px;top:919.37px;font-size:24.32px;color:#fbf7f4;transform:translate(-50%,-50%) rotate(-90deg) scaleX(0.607)">90713</span>
<div class="b" style="left:1361.5px;top:883.2px;width:61.50px;height:83.80px;background:#8b7865;"></div>
<span class="t" style="left:1392.41px;top:927.56px;font-size:24.80px;color:#fbf7f4;transform:translate(-50%,-50%) scaleX(0.600)">91011</span>
<div class="b" style="left:1425.5px;top:871.7px;width:61.00px;height:95.30px;background:#a3a586;"></div>
<span class="t" style="left:1441.65px;top:919.37px;font-size:24.32px;color:#fbf7f4;transform:translate(-50%,-50%) rotate(-90deg) scaleX(0.607)">82414</span>
<div class="dv" style="left:1455.25px;top:871.7px;height:95.30px"></div>
<span class="t" style="left:1472.15px;top:919.37px;font-size:24.32px;color:#fbf7f4;transform:translate(-50%,-50%) rotate(-90deg) scaleX(0.607)">82414</span>
<div class="b" style="left:1489px;top:883.2px;width:61.00px;height:83.80px;background:#a3a586;"></div>
<span class="t" style="left:1519.66px;top:927.56px;font-size:24.80px;color:#fbf7f4;transform:translate(-50%,-50%) scaleX(0.600)">91007</span>
<div class="b" style="left:1553.5px;top:871.7px;width:60.50px;height:95.30px;background:#6b7a77;"></div>
<span class="t" style="left:1569.52px;top:919.37px;font-size:24.32px;color:#fbf7f4;transform:translate(-50%,-50%) rotate(-90deg) scaleX(0.607)">82415</span>
<div class="dv" style="left:1583.00px;top:871.7px;height:95.30px"></div>
<span class="t" style="left:1599.77px;top:919.37px;font-size:24.32px;color:#fbf7f4;transform:translate(-50%,-50%) rotate(-90deg) scaleX(0.607)">82415</span>
<div class="b" style="left:1616.5px;top:883.2px;width:61.50px;height:83.80px;background:#6b7a77;"></div>
<span class="t" style="left:1647.41px;top:927.56px;font-size:24.80px;color:#fbf7f4;transform:translate(-50%,-50%) scaleX(0.600)">91008</span>
<div class="b" style="left:133px;top:995.7px;width:124.50px;height:107.30px;background:#7b3a4c;"></div>
<span class="t" style="left:155.43px;top:1049.53px;font-size:29.11px;color:#fbf7f4;transform:translate(-50%,-50%) rotate(-90deg) scaleX(0.607)">90720</span>
<div class="dv" style="left:173.75px;top:995.7px;height:107.30px"></div>
<span class="t" style="left:196.93px;top:1049.53px;font-size:29.11px;color:#fbf7f4;transform:translate(-50%,-50%) rotate(-90deg) scaleX(0.607)">90720</span>
<div class="dv" style="left:215.25px;top:995.7px;height:107.30px"></div>
<span class="t" style="left:238.43px;top:1049.53px;font-size:29.11px;color:#fbf7f4;transform:translate(-50%,-50%) rotate(-90deg) scaleX(0.607)">90720</span>
<div class="b" style="left:259px;top:995.7px;width:125.00px;height:107.30px;background:#c55b5b;"></div>
<span class="t" style="left:281.51px;top:1049.53px;font-size:29.11px;color:#fbf7f4;transform:translate(-50%,-50%) rotate(-90deg) scaleX(0.607)">82416</span>
<div class="dv" style="left:299.92px;top:995.7px;height:107.30px"></div>
<span class="t" style="left:323.18px;top:1049.53px;font-size:29.11px;color:#fbf7f4;transform:translate(-50%,-50%) rotate(-90deg) scaleX(0.607)">82416</span>
<div class="dv" style="left:341.58px;top:995.7px;height:107.30px"></div>
<span class="t" style="left:364.84px;top:1049.53px;font-size:29.11px;color:#fbf7f4;transform:translate(-50%,-50%) rotate(-90deg) scaleX(0.607)">82416</span>
<div class="b" style="left:387px;top:995.7px;width:124.50px;height:107.30px;background:#f0c3bd;"></div>
<span class="t" style="left:409.43px;top:1049.53px;font-size:29.11px;color:#ffffff;transform:translate(-50%,-50%) rotate(-90deg) scaleX(0.607)">82417</span>
<div class="dv" style="left:427.75px;top:995.7px;height:107.30px"></div>
<span class="t" style="left:450.93px;top:1049.53px;font-size:29.11px;color:#ffffff;transform:translate(-50%,-50%) rotate(-90deg) scaleX(0.607)">82417</span>
<div class="dv" style="left:469.25px;top:995.7px;height:107.30px"></div>
<span class="t" style="left:492.43px;top:1049.53px;font-size:29.11px;color:#ffffff;transform:translate(-50%,-50%) rotate(-90deg) scaleX(0.607)">82417</span>
<div class="b" style="left:514px;top:995.7px;width:125.00px;height:107.30px;background:#efd7dc;"></div>
<span class="t" style="left:536.51px;top:1049.53px;font-size:29.11px;color:#ffffff;transform:translate(-50%,-50%) rotate(-90deg) scaleX(0.607)">82418</span>
<div class="dv" style="left:554.92px;top:995.7px;height:107.30px"></div>
<span class="t" style="left:578.18px;top:1049.53px;font-size:29.11px;color:#ffffff;transform:translate(-50%,-50%) rotate(-90deg) scaleX(0.607)">82418</span>
<div class="dv" style="left:596.58px;top:995.7px;height:107.30px"></div>
<span class="t" style="left:619.84px;top:1049.53px;font-size:29.11px;color:#ffffff;transform:translate(-50%,-50%) rotate(-90deg) scaleX(0.607)">82418</span>
<div class="b" style="left:651px;top:995.7px;width:124.00px;height:107.30px;background:#c0b9cc;"></div>
<span class="t" style="left:673.34px;top:1049.53px;font-size:29.11px;color:#ffffff;transform:translate(-50%,-50%) rotate(-90deg) scaleX(0.607)">90718</span>
<div class="dv" style="left:691.58px;top:995.7px;height:107.30px"></div>
<span class="t" style="left:714.68px;top:1049.53px;font-size:29.11px;color:#ffffff;transform:translate(-50%,-50%) rotate(-90deg) scaleX(0.607)">90718</span>
<div class="dv" style="left:732.92px;top:995.7px;height:107.30px"></div>
<span class="t" style="left:756.01px;top:1049.53px;font-size:29.11px;color:#ffffff;transform:translate(-50%,-50%) rotate(-90deg) scaleX(0.607)">90718</span>
<div class="b w" style="left:777.5px;top:995.7px;width:40.50px;height:107.30px;"></div>
<span class="t d" style="left:798.48px;top:1049.09px;font-size:29.54px;color:#141414;transform:translate(-50%,-50%) rotate(-90deg) scaleX(0.603)">82419</span>
<div class="b w" style="left:819.5px;top:995.7px;width:40.50px;height:107.30px;"></div>
<span class="t d" style="left:840.48px;top:1049.09px;font-size:29.54px;color:#141414;transform:translate(-50%,-50%) rotate(-90deg) scaleX(0.603)">82419</span>
<div class="b w" style="left:861.5px;top:995.7px;width:41.00px;height:107.30px;"></div>
<span class="t d" style="left:882.73px;top:1049.09px;font-size:29.54px;color:#141414;transform:translate(-50%,-50%) rotate(-90deg) scaleX(0.603)">82419</span>
<div class="b" style="left:903.5px;top:995.7px;width:127.50px;height:107.30px;background:#f2eac8;"></div>
<span class="t d" style="left:925.48px;top:1049.09px;font-size:29.54px;color:#141414;transform:translate(-50%,-50%) rotate(-90deg) scaleX(0.603)">82420</span>
<div class="dv" style="left:945.25px;top:995.7px;height:107.30px"></div>
<span class="t d" style="left:967.98px;top:1049.09px;font-size:29.54px;color:#141414;transform:translate(-50%,-50%) rotate(-90deg) scaleX(0.603)">82420</span>
<div class="dv" style="left:987.75px;top:995.7px;height:107.30px"></div>
<span class="t d" style="left:1010.48px;top:1049.09px;font-size:29.54px;color:#141414;transform:translate(-50%,-50%) rotate(-90deg) scaleX(0.603)">82420</span>
<div class="b" style="left:1033px;top:995.7px;width:124.00px;height:107.30px;background:#b98a53;"></div>
<span class="t" style="left:1055.34px;top:1049.53px;font-size:29.11px;color:#fbf7f4;transform:translate(-50%,-50%) rotate(-90deg) scaleX(0.607)">82422</span>
<div class="dv" style="left:1073.58px;top:995.7px;height:107.30px"></div>
<span class="t" style="left:1096.68px;top:1049.53px;font-size:29.11px;color:#fbf7f4;transform:translate(-50%,-50%) rotate(-90deg) scaleX(0.607)">82422</span>
<div class="dv" style="left:1114.92px;top:995.7px;height:107.30px"></div>
<span class="t" style="left:1138.01px;top:1049.53px;font-size:29.11px;color:#fbf7f4;transform:translate(-50%,-50%) rotate(-90deg) scaleX(0.607)">82422</span>
<div class="b" style="left:1173px;top:995.7px;width:124.00px;height:107.30px;background:#b0937a;"></div>
<span class="t" style="left:1195.34px;top:1049.53px;font-size:29.11px;color:#fbf7f4;transform:translate(-50%,-50%) rotate(-90deg) scaleX(0.607)">82421</span>
<div class="dv" style="left:1213.58px;top:995.7px;height:107.30px"></div>
<span class="t" style="left:1236.68px;top:1049.53px;font-size:29.11px;color:#fbf7f4;transform:translate(-50%,-50%) rotate(-90deg) scaleX(0.607)">82421</span>
<div class="dv" style="left:1254.92px;top:995.7px;height:107.30px"></div>
<span class="t" style="left:1278.01px;top:1049.53px;font-size:29.11px;color:#fbf7f4;transform:translate(-50%,-50%) rotate(-90deg) scaleX(0.607)">82421</span>
<div class="b" style="left:1298.5px;top:995.7px;width:124.50px;height:107.30px;background:#8b7865;"></div>
<span class="t" style="left:1320.93px;top:1049.53px;font-size:29.11px;color:#fbf7f4;transform:translate(-50%,-50%) rotate(-90deg) scaleX(0.607)">90719</span>
<div class="dv" style="left:1339.25px;top:995.7px;height:107.30px"></div>
<span class="t" style="left:1362.43px;top:1049.53px;font-size:29.11px;color:#fbf7f4;transform:translate(-50%,-50%) rotate(-90deg) scaleX(0.607)">90719</span>
<div class="dv" style="left:1380.75px;top:995.7px;height:107.30px"></div>
<span class="t" style="left:1403.93px;top:1049.53px;font-size:29.11px;color:#fbf7f4;transform:translate(-50%,-50%) rotate(-90deg) scaleX(0.607)">90719</span>
<div class="b" style="left:1426px;top:995.7px;width:125.00px;height:107.30px;background:#a3a586;"></div>
<span class="t" style="left:1448.51px;top:1049.53px;font-size:29.11px;color:#fbf7f4;transform:translate(-50%,-50%) rotate(-90deg) scaleX(0.607)">82423</span>
<div class="dv" style="left:1466.92px;top:995.7px;height:107.30px"></div>
<span class="t" style="left:1490.18px;top:1049.53px;font-size:29.11px;color:#fbf7f4;transform:translate(-50%,-50%) rotate(-90deg) scaleX(0.607)">82423</span>
<div class="dv" style="left:1508.58px;top:995.7px;height:107.30px"></div>
<span class="t" style="left:1531.84px;top:1049.53px;font-size:29.11px;color:#fbf7f4;transform:translate(-50%,-50%) rotate(-90deg) scaleX(0.607)">82423</span>
<div class="b" style="left:1554px;top:995.7px;width:124.50px;height:107.30px;background:#6b7a77;"></div>
<span class="t" style="left:1576.43px;top:1049.53px;font-size:29.11px;color:#fbf7f4;transform:translate(-50%,-50%) rotate(-90deg) scaleX(0.607)">82424</span>
<div class="dv" style="left:1594.75px;top:995.7px;height:107.30px"></div>
<span class="t" style="left:1617.93px;top:1049.53px;font-size:29.11px;color:#fbf7f4;transform:translate(-50%,-50%) rotate(-90deg) scaleX(0.607)">82424</span>
<div class="dv" style="left:1636.25px;top:995.7px;height:107.30px"></div>
<span class="t" style="left:1659.43px;top:1049.53px;font-size:29.11px;color:#fbf7f4;transform:translate(-50%,-50%) rotate(-90deg) scaleX(0.607)">82424</span>
<div class="ln" style="left:124px;top:15px;width:1559px;height:2px"></div>
<div class="ln" style="left:124px;top:177px;width:1559px;height:2px"></div>
<div class="ln" style="left:124px;top:405px;width:1559px;height:2px"></div>
<div class="ln" style="left:124px;top:491px;width:1559px;height:2px"></div>
<div class="ln" style="left:124px;top:561px;width:1559px;height:2px"></div>
<div class="ln" style="left:124px;top:635px;width:1559px;height:2px"></div>
<div class="ln" style="left:124px;top:720px;width:1559px;height:2px"></div>
<div class="ln" style="left:124px;top:842px;width:1559px;height:2px"></div>
<div class="ln" style="left:124px;top:967px;width:1559px;height:2px"></div>
<div class="ln" style="left:124px;top:1103px;width:1559px;height:2px"></div>
<div class="ln" style="left:124px;top:1184px;width:1559px;height:2px"></div>
<div class="ln" style="left:124px;top:15px;width:2px;height:1171px"></div>
<div class="ln" style="left:641.3px;top:15px;width:2px;height:1171px"></div>
<div class="ln" style="left:1161.3px;top:15px;width:2px;height:1171px"></div>
<div class="ln" style="left:1681px;top:15px;width:2px;height:1171px"></div>
</body></html>
